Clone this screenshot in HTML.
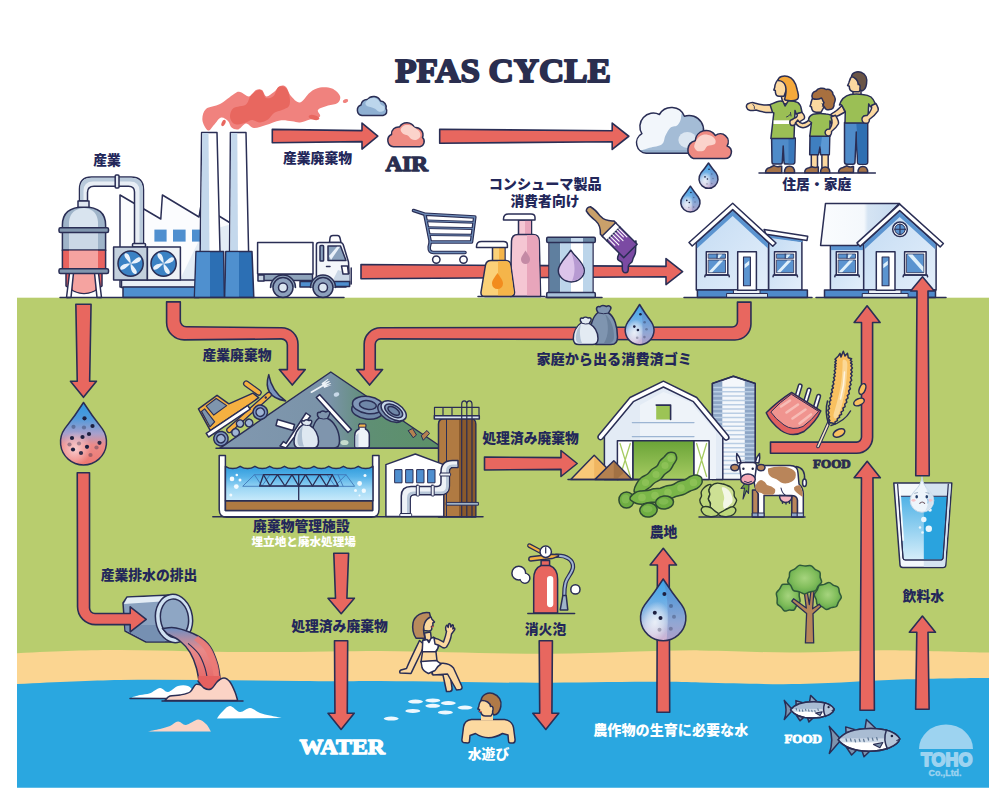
<!DOCTYPE html>
<html lang="ja"><head><meta charset="utf-8"><title>PFAS CYCLE</title>
<style>
html,body{margin:0;padding:0;background:#fff;}
body{width:1000px;height:800px;overflow:hidden;position:relative;font-family:"Liberation Sans","Noto Sans CJK JP",sans-serif;}
svg{position:absolute;left:0;top:0;display:block;}
.o{stroke:#2a2e55;stroke-width:1.5;stroke-linejoin:round;stroke-linecap:round;}
.ar{fill:#e8675f;stroke:#2a2e55;stroke-width:1.6;stroke-linejoin:round;}
.jp{font-family:"Liberation Sans","Noto Sans CJK JP",sans-serif;font-weight:900;font-size:13.8px;fill:#23275a;text-anchor:middle;}
.sl{font-family:"Liberation Serif","DejaVu Serif",serif;font-weight:700;fill:#2a2e4f;text-anchor:middle;}
.w{fill:#fff;}
</style></head><body>
<svg width="1000" height="800" viewBox="0 0 1000 800">
<!-- 00_defs_bg.svg -->
<defs>
<linearGradient id="gDropR" x1="0" y1="0" x2="0" y2="1"><stop offset="0" stop-color="#2f98e2"/><stop offset=".25" stop-color="#4f9adb"/><stop offset=".5" stop-color="#a9a0cc"/><stop offset=".68" stop-color="#ec8a88"/><stop offset="1" stop-color="#ee7870"/></linearGradient>
<linearGradient id="gDropM" x1="0" y1="0" x2="0" y2="1"><stop offset="0" stop-color="#3a8ad4"/><stop offset=".5" stop-color="#7aa0cf"/><stop offset="1" stop-color="#c9a9c4"/></linearGradient>
<linearGradient id="gWall" x1="0" y1="0" x2="1" y2="1"><stop offset="0" stop-color="#c3dbf3"/><stop offset="1" stop-color="#e3eefa"/></linearGradient>
<linearGradient id="gRoof2" x1="0" y1="0" x2="1" y2="0"><stop offset="0" stop-color="#fafcfe"/><stop offset=".55" stop-color="#f4f8fc"/><stop offset=".6" stop-color="#d5e4f3"/><stop offset="1" stop-color="#c5daf0"/></linearGradient>
<linearGradient id="gTankW" x1="0" y1="0" x2="0" y2="1"><stop offset="0" stop-color="#2f9bdc"/><stop offset=".3" stop-color="#55b2e8"/><stop offset=".65" stop-color="#9fd8f5"/><stop offset="1" stop-color="#c8eafb"/></linearGradient>
<linearGradient id="gBarnD" x1="0" y1="0" x2="0" y2="1"><stop offset="0" stop-color="#6aa437"/><stop offset="1" stop-color="#a6cb62"/></linearGradient>
<linearGradient id="gMount" x1="0" y1="0" x2="1" y2="0"><stop offset="0" stop-color="#8198b0"/><stop offset=".5" stop-color="#7a93a8"/><stop offset=".68" stop-color="#5f8f74"/><stop offset="1" stop-color="#5c9068"/></linearGradient>
<linearGradient id="gGlassL" x1="0" y1="0" x2="0" y2="1"><stop offset="0" stop-color="#4fb2e6"/><stop offset="1" stop-color="#d6eefa"/></linearGradient>
<linearGradient id="gFlow" x1="0" y1="0" x2="0" y2="1"><stop offset="0" stop-color="#6d8fc4"/><stop offset=".35" stop-color="#e88a8a"/><stop offset="1" stop-color="#e5605f"/></linearGradient>
<linearGradient id="gCloud" x1="0" y1="0" x2="0" y2="1"><stop offset="0" stop-color="#ffffff"/><stop offset="1" stop-color="#c9d9ea"/></linearGradient>
<linearGradient id="gDropM2" x1="0" y1="0" x2="0" y2="1"><stop offset="0" stop-color="#3aa2ea"/><stop offset=".35" stop-color="#69aee6"/><stop offset=".7" stop-color="#a9bfe2"/><stop offset="1" stop-color="#d3b3d3"/></linearGradient>
<radialGradient id="gHL"><stop offset="0" stop-color="#fff" stop-opacity=".75"/><stop offset=".6" stop-color="#fff" stop-opacity=".4"/><stop offset="1" stop-color="#fff" stop-opacity="0"/></radialGradient>
<radialGradient id="gHLp"><stop offset="0" stop-color="#fde0e2" stop-opacity=".8"/><stop offset=".6" stop-color="#fbd0d3" stop-opacity=".4"/><stop offset="1" stop-color="#fbd0d3" stop-opacity="0"/></radialGradient>
<radialGradient id="gTree" cx=".5" cy=".45" r=".6"><stop offset="0" stop-color="#a6d47e"/><stop offset=".55" stop-color="#82be5c"/><stop offset="1" stop-color="#5aa347"/></radialGradient>
</defs>
<!-- background -->
<rect x="17" y="297.7" width="972" height="380" fill="#b8cd6e"/>
<path d="M17,653.2 C60,651 90,650 120,650 C170,650.5 210,652 240,652 C300,652.5 340,651 380,651 C440,651.5 500,654 550,653.8 C610,653.5 660,650 700,650.4 C740,651 770,653 800,652.5 C840,652 870,650 900,650.4 C940,651 965,652 989,652.5 L989,695 L17,695 Z" fill="#fbd591"/>
<path d="M17,684 C60,682 90,680.5 120,680 C180,679.5 240,680.5 300,681 C340,681.5 360,681 380,681 C440,681.5 500,683 550,682.7 C610,682.3 670,681 700,682.5 C740,683.5 770,684.5 800,684 C840,683 870,680.5 900,679.5 C940,678.5 965,678 989,678 L989,787.7 L17,787.7 Z" fill="#2aa7e0"/>
<!-- 05_left.svg -->
<g id="left">
<clipPath id="cpdL"><path d="M83.5,402.5 Q92.1,416.1 102.2,428.6 A23,23 0 1 1 64.8,428.6 Q74.9,416.1 83.5,402.5 Z"/></clipPath>
<path d="M83.5,402.5 Q92.1,416.1 102.2,428.6 A23,23 0 1 1 64.8,428.6 Q74.9,416.1 83.5,402.5 Z" fill="url(#gDropR)"/>
<g clip-path="url(#cpdL)"><ellipse cx="75" cy="449" rx="16" ry="18" fill="url(#gHLp)" transform="rotate(25 75 449)"/></g>
<circle cx="84.5" cy="418.3" r="2.1" fill="#1d2040" opacity="1"/>
<circle cx="92.5" cy="426" r="2.1" fill="#1d2040" opacity="1"/>
<circle cx="73.5" cy="426.8" r="2.1" fill="#1d2040" opacity="0.35"/>
<circle cx="84" cy="427.5" r="2.1" fill="#1d2040" opacity="0.35"/>
<circle cx="89" cy="434" r="2.1" fill="#1d2040" opacity="1"/>
<circle cx="82.5" cy="437" r="2.1" fill="#1d2040" opacity="1"/>
<circle cx="72" cy="438" r="2.1" fill="#1d2040" opacity="1"/>
<circle cx="99.5" cy="442.8" r="2.1" fill="#1d2040" opacity="0.9"/>
<circle cx="69.5" cy="444.5" r="2.1" fill="#1d2040" opacity="0.4"/>
<circle cx="79" cy="443.5" r="2.1" fill="#1d2040" opacity="0.35"/>
<circle cx="87" cy="446.8" r="2.1" fill="#1d2040" opacity="1"/>
<circle cx="96.5" cy="447.5" r="2.1" fill="#1d2040" opacity="0.35"/>
<circle cx="73" cy="449.5" r="2.1" fill="#1d2040" opacity="1"/>
<circle cx="81" cy="453" r="2.1" fill="#1d2040" opacity="0.9"/>
<circle cx="90.5" cy="455" r="2.1" fill="#1d2040" opacity="0.35"/>
<path class="o" d="M83.5,402.5 Q92.1,416.1 102.2,428.6 A23,23 0 1 1 64.8,428.6 Q74.9,416.1 83.5,402.5 Z" fill="none" stroke-width="1.600"/>
<path class="o" d="M127,597 L170,595 L176,642 L146,642 L125,631 L123,603 Z" fill="#8aa2c0"/>
<path d="M127.300,597.700 L168,596 L168,601 L124,604 Z" fill="#e3ecf5"/>
<path d="M125.500,625 L160,625 L165,641.300 L146.200,641.300 L125.700,630.500 Z" fill="#7690b2"/>
<g transform="rotate(-8 174 618.500)"><ellipse class="o" cx="174" cy="618.500" rx="18.500" ry="24.300" fill="#cfe0f1"/><ellipse class="o" cx="174.500" cy="618.500" rx="14" ry="19.500" fill="#8ea6c4"/></g>
<path class="o" d="M162.4,628.6 C164.7,628.5 170.1,626.8 176,628 C181.9,629.2 192.3,632.9 198,636 C203.7,639.1 206.7,641.7 210,646.4 C213.3,651.1 215.9,658.2 217.6,664 C219.3,669.8 219.9,678.2 220.4,681 L200.4,689 C199.7,685.5 198.1,674.1 196.4,668 C194.7,661.9 192.7,656.9 190,652.4 C187.3,647.9 183.8,644.1 180,641 C176.2,637.9 169.2,634.8 167,633.6 Z" fill="url(#gFlow)"/>
<path d="M188.4,643.6 C190.2,645.4 196.2,650.3 199,654.4 C201.8,658.5 203.6,663.7 205,668 C206.4,672.3 207.2,678 207.6,680" fill="none" stroke="#2a2e55" stroke-width="1.100" stroke-linecap="round"/>
<path d="M194,640 C195.7,641.5 201.2,645 204,649 C206.8,653 209.3,659.2 211,664 C212.7,668.8 213.5,675.7 214,678 L219.9,681  C219.9,678.2 219.3,669.8 217.6,664 C215.9,658.2 213.3,651.1 210,646.4 C206.7,641.7 200,637.7 198,636 Z" fill="#ec7a76" opacity=".85"/>
<path d="M131,697.6 C132.5,697.2 136.8,695.7 140,695 C143.2,694.3 146.7,694.4 150,693.2 C153.3,692 157,688.2 160,688 C163,687.8 165,692.3 168,692 C171,691.7 174.7,687 178,686 C181.3,685 185.3,685 188,686 C190.7,687 192.7,690 194,692 C195.3,694 195.7,697 196,698 L191,698.6 Z" fill="#fff"/>
<path class="o" d="M130,698.400 L168,698.400" fill="none"/>
<path class="o" d="M165,700.4 C165.8,699.7 167.5,696.9 170,696 C172.5,695.1 176.7,695.7 180,695 C183.3,694.3 187.3,693.8 190,692 C192.7,690.2 193.7,685.3 196,684.4 C198.3,683.5 201.7,685.6 204,686.4 C206.3,687.2 208,689.7 210,689 C212,688.3 213.7,683.8 216,682 C218.3,680.2 221.7,678 224,678 C226.3,678 228.2,679.7 230,682 C231.8,684.3 233.7,688.9 235,692 C236.3,695.1 237.2,699 237.6,700.4 Z" fill="#fbd3c5"/>
<path class="o" d="M162,701 L243,701" fill="none"/>
<path d="M198,681 C199,682.2 201.8,686.7 204,688 C206.2,689.3 208.8,690 211,689 C213.2,688 215.4,683.7 217,682 C218.6,680.3 219.8,679.5 220.4,679 L220.4,676 L198.5,676 Z" fill="#e5605f"/>
<path class="o" d="M198,681 C199,682.2 201.8,686.7 204,688 C206.2,689.3 208.8,690 211,689 C213.2,688 215.4,683.7 217,682 C218.6,680.3 219.8,679.5 220.4,679" fill="none"/>
<path d="M217,718.4 C217.8,717.3 219.8,714.1 222,712 C224.2,709.9 227,706 230,706 C233,706 236.7,711.7 240,712 C243.3,712.3 246.7,707.8 250,708 C253.3,708.2 256.7,711.7 260,713 C263.3,714.3 266.4,714.8 270,715.6 C273.6,716.4 279.7,717.6 281.6,718 Z" fill="#fff"/>
<path d="M147,731.6 C149.2,731.2 156.2,729.9 160,729 C163.8,728.1 167,727.2 170,726 C173,724.8 175.3,721.8 178,721.6 C180.7,721.4 182.7,725.3 186,725 C189.3,724.7 194.7,719.8 198,719.6 C201.3,719.4 203.8,722 206,724 C208.2,726 210.2,730.3 211,731.6 Z" fill="#fbd3c5"/>
</g>
<!-- 10_arrows.svg -->
<polygon class="ar" points="272.3,129.4 362,130.6 362,123.1 377.8,136.1 362,149.1 362,141.6 272.3,142.8"/>
<polygon class="ar" points="439.7,129.25 612.2,130.75 612.2,123.05 628.8,136.25 612.2,149.45 612.2,141.75 439.7,143.25"/>
<polygon class="ar" points="361,264.5 666,266.4 666,258.6 682.6,271.6 666,284.6 666,276.8 361,278.7"/>
<polygon class="ar" points="75.85,304.2 77.25,381.2 70.45,381.2 83.45,397.3 96.45,381.2 89.65,381.2 91.05,304.2"/>
<path class="ar" d="M77.25,472.75 L89.5,472.75 L89.55,608.1 A5.45,5.45 0 0 0 95,613.55 L130.2,613.55 L130.2,606.8 L146.2,619.3 L130.2,631.8 L130.2,624.65 L95.5,624.65 A17.95,17.95 0 0 1 77.55,606.7 Z"/>
<path class="ar" d="M166.6,301.9 L180.3,301.9 L180.3,320.8 A6,6 0 0 0 186.3,326.8 L281.5,327.7 A16.5,16.5 0 0 1 298,344.2 L298,369.6 L305.3,369.6 L292.3,385.1 L279.3,369.6 L287.35,369.6 L287.35,344.9 A6,6 0 0 0 281.35,338.9 L184.1,339.9 A17.5,17.5 0 0 1 166.6,322.4 Z"/>
<path class="ar" d="M737.45,302.15 L750.95,302.15 L750.95,323.95 A16,16 0 0 1 734.95,339.95 L380.75,338.85 A5.5,5.5 0 0 0 375.25,344.35 L375.25,369.6 L382.6,369.6 L369.6,385.1 L356.6,369.6 L364.15,369.6 L364.15,344.25 A16.5,16.5 0 0 1 380.65,327.75 L732.25,327.05 A5.2,5.2 0 0 0 737.45,321.85 Z"/>
<polygon class="ar" points="484.5,457 561,457.65 561,450.5 577.2,463.5 561,476.5 561,469.35 484.5,470"/>
<polygon class="ar" points="333.8,553.3 335.5,598.2 328,598.2 341.2,613.7 354.4,598.2 346.9,598.2 348.6,553.3"/>
<polygon class="ar" points="334.5,640.7 334.95,713.2 328,713.2 341.1,729.5 354.2,713.2 347.25,713.2 347.7,640.7"/>
<polygon class="ar" points="539.2,640.7 539.7,713.2 532.8,713.2 545.8,729.5 558.8,713.2 551.9,713.2 552.4,640.7"/>
<polygon class="ar" points="656.9,712.3 657.4,565 650.1,565 663.3,548.3 676.5,565 669.2,565 669.7,712.3"/>
<path class="ar" d="M770.5,442.1 L856.5,442.1 A5,5 0 0 0 861.5,437.1 L861.5,322.5 L854.1,322.5 L867.1,305.8 L880.1,322.5 L872.6,322.5 L872.6,437.3 A16,16 0 0 1 856.6,453.3 L770.5,453.3 Z"/>
<polygon class="ar" points="860,710.3 861.45,477.8 854.1,477.8 867.2,461.3 880.3,477.8 872.95,477.8 874.4,710.3"/>
<polygon class="ar" points="915.65,709.3 916.8,632.3 909.3,632.3 922.4,616 935.5,632.3 928,632.3 929.15,709.3"/>
<!-- 20_factory.svg -->
<g class="o" id="factory">
<!-- building body (behind chimneys) -->
<path d="M120,195 L160.8,219 L162.4,195 L199,217 L201,205 L232,224 L232,287 L120,287 Z" fill="#fbfcfe"/>
<path d="M203,232 L232,224 L232,290 L175,290 Z" fill="#e3ecf5" stroke="none"/>
<g stroke="none" fill="#4f8fcf"><rect x="154.4" y="229.6" width="12.2" height="12"/><rect x="173" y="229.6" width="12.6" height="12"/><rect x="192" y="229.6" width="10" height="12"/></g>
<!-- base strips -->
<rect x="121.5" y="280" width="80" height="7.5" fill="#e9eff6"/>
<rect x="123" y="287" width="76" height="10.5" fill="#4f8fcf"/>
<!-- chimneys -->
<path d="M201.6,132.4 L217,132.4 L220,252 L200.2,252 Z" fill="#fff"/>
<path d="M202.3,133.1 L208.5,133.1 L209.5,251.3 L200.9,251.3 Z" fill="#c4d8ec" stroke="none"/>
<path d="M230.4,132.4 L246,132.4 L248.6,252 L229.6,252 Z" fill="#fff"/>
<path d="M231.1,133.1 L237.3,133.1 L238,251.3 L230.3,251.3 Z" fill="#c4d8ec" stroke="none"/>
<path d="M196,251.6 L223.6,251.6 L224.4,297.5 L194.4,297.5 Z" fill="#2c6fb4"/>
<path d="M196.7,252.3 L210,252.3 L210,296.8 L195.1,296.8 Z" fill="#4f90cf" stroke="none"/>
<path d="M225.8,251.6 L252,251.6 L253.8,297.5 L224.8,297.5 Z" fill="#2c6fb4"/>
<path d="M226.5,252.3 L239,252.3 L239,296.8 L225.5,296.8 Z" fill="#4f90cf" stroke="none"/>
<!-- pipe from tank to fan box -->
<path d="M79.5,201 L79.5,189 Q79.5,177 91.5,177 L131,177 Q143.5,177 143.5,189.5 L143.5,246 L134.5,246 L134.5,192 Q134.5,186.2 128.5,186.2 L94,186.2 Q87.5,186.2 87.5,192.5 L87.5,201 Z" fill="#e8eef5"/>
<path d="M80.2,200 L80.2,189 Q80.2,177.8 91.5,177.8 L131,177.8 Q142.8,177.8 142.8,189.5 L142.8,245.3 L139.5,245.3 L139.5,191 Q139.5,181.5 130,181.5 L93,181.5 Q83.5,181.5 83.5,191 L83.5,200 Z" fill="#b9cadb" stroke="none"/>
<rect x="115.2" y="175" width="3.8" height="13" rx="1" fill="#e8eef5"/>
<rect x="132.5" y="243.5" width="13" height="3.6" rx="1" fill="#e8eef5"/>
<!-- fan box -->
<rect x="113.6" y="247" width="33.8" height="33" fill="#c3d0dd"/>
<rect x="147.4" y="247" width="33" height="33" fill="#edf1f6"/>
<circle cx="130.6" cy="263.6" r="12.6" fill="#3b82c4"/>
<circle cx="163.6" cy="263.6" r="12.6" fill="#3b82c4"/>
<g stroke="none" fill="#e9f2fb">
<path d="M130.6,263.6 C126,259 123,255.5 125,253.5 C127.5,252 131,256 130.6,263.6 C135.2,259 138.7,256 140.7,258 C142.2,260.5 138.2,264 130.6,263.6 C135.2,268.2 138.2,271.7 136.2,273.7 C133.7,275.2 130.2,271.2 130.6,263.6 C126,268.2 122.5,271.2 120.5,269.2 C119,266.7 123,263.2 130.6,263.6 Z"/>
<path d="M163.6,263.6 C159,259 156,255.5 158,253.5 C160.5,252 164,256 163.6,263.6 C168.2,259 171.7,256 173.7,258 C175.2,260.5 171.2,264 163.6,263.6 C168.2,268.2 171.2,271.7 169.2,273.7 C166.700,275.2 163.2,271.2 163.6,263.6 C159,268.2 155.5,271.2 153.5,269.2 C152,266.7 156,263.2 163.6,263.6 Z"/>
</g>
<!-- tank -->
<path d="M70.5,292 L67.5,297.5 M73,273 L69,297.5 M96,273 L100,297.5" fill="none"/>
<path d="M66,270 L66,286 Q75,293.5 84,293.5 Q93,293.5 102,286 L102,270 Z" fill="#e8625f"/>
<path d="M73,271 L73,290 Q78,293 84,293 Q90,293 95,290 L95,271 Z" fill="#f5a3a0" stroke="none"/>
<path d="M69.5,273 L73.5,273 L71,297.5 L66.5,297.5 Z" fill="#fff"/>
<path d="M94.500,273 L98.500,273 L101.500,297.5 L97,297.5 Z" fill="#fff"/>
<path d="M62.400,230 L62.400,225 Q62.400,207 84,207 Q105.600,207 105.600,225 L105.600,230 Z" fill="#9fb4c9"/>
<path d="M69,229 L69,222 Q70,209 84,208 Q97,209 98,222 L98,229 Z" fill="#d9e4ef" stroke="none"/>
<rect x="62.400" y="232" width="43.200" height="18.500" fill="#9fb4c9"/>
<rect x="69" y="232.7" width="29" height="17.500" fill="#cbd8e6" stroke="none"/>
<rect x="62.400" y="250" width="43.200" height="19" fill="#e8625f"/>
<rect x="69" y="250.7" width="29" height="17.600" fill="#f5a3a0" stroke="none"/>
<rect x="59" y="227.800" width="49.500" height="4.600" rx="1.500" fill="#8096ae"/>
<rect x="59" y="268.800" width="49.500" height="4.600" rx="1.500" fill="#8096ae"/>
<rect x="78" y="201" width="11" height="6.300" fill="#dfe7f0"/>
<!-- ground line -->
<path d="M60,297.5 L255,297.5" fill="none"/>
</g>
<!-- 21_smoke_truck.svg -->
<g id="smoke" stroke="none">
<path d="M202.4,120 C202.1,116.4 203.1,111.7 206,109 C208.9,106.3 215.3,106.5 220,104 C224.7,101.5 230.7,96 234,94 C237.3,92 237.5,91.6 240,92 C242.5,92.4 246.3,96.7 249,96.4 C251.7,96.1 253.8,91.1 256,90 C258.2,88.9 260.3,88.9 262,90 C263.7,91.1 264.4,96.1 266.4,96.4 C268.4,96.7 271.7,93.7 274,92 C276.3,90.3 278,86.8 280,86 C282,85.2 284.2,85.3 286,87 C287.8,88.7 288.7,93.4 291,96 C293.3,98.6 296.8,103 300,102.4 C303.2,101.8 306.7,94.9 310,92.4 C313.3,89.9 316.3,88.2 320,87.6 C323.7,87 328.7,87.2 332,88.6 C335.3,90 339.1,93.6 340,96 C340.9,98.4 339.6,101.4 337.6,103 C335.6,104.6 331.3,104.4 328,105.6 C324.7,106.8 319.3,108.2 318,110 C316.7,111.8 321.3,114.8 320,116.4 C318.7,118 313.3,118.6 310,119.6 C306.7,120.6 303,122.1 300,122.4 C297,122.7 295.3,121.5 292,121.2 C288.7,120.9 284.3,119.8 280,120.4 C275.7,121 270.3,123.7 266,125 C261.7,126.3 257.3,128.2 254,128 C250.7,127.8 248.6,123.4 246,123.6 C243.4,123.8 240.8,128.7 238.4,129.4 C236,130.1 233.3,129 231.6,127.6 C229.9,126.2 229.8,122.7 228,121 C226.2,119.3 223.3,117 221,117.6 C218.7,118.2 216.6,122.3 214.4,124.4 C212.2,126.5 210,131.1 208,130.4 C206,129.7 202.7,123.6 202.4,120 Z" fill="#f0827e"/>
<path d="M230,116 C230.2,113.6 230.9,109.9 233.6,108 C236.3,106.1 243.2,106.4 246,104.4 C248.8,102.4 248.6,98.3 250.4,96 C252.2,93.7 255.1,91.3 257,90.4 C258.9,89.5 260.5,89.5 262,90.8 C263.5,92.1 264.1,97.1 266,98 C267.9,98.9 271.5,97.8 273.6,96 C275.7,94.2 276.3,88.3 278.4,87 C280.5,85.7 284.1,86.3 286,88 C287.9,89.7 289.1,94 289.6,97 C290.1,100 290.3,103.8 289,106 C287.7,108.2 284.5,108.8 282,110 C279.5,111.2 276.3,111.4 274,113 C271.7,114.6 270.3,118 268,119.6 C265.7,121.2 262.7,122.3 260,122.4 C257.3,122.5 254.3,120 252,120 C249.7,120 248.3,121.7 246,122.4 C243.7,123.1 240.3,124.4 238,124.4 C235.7,124.4 233.7,123.8 232.4,122.4 C231.1,121 229.8,118.4 230,116 Z" fill="#e8675f"/>
<ellipse cx="345.5" cy="101" rx="2.8" ry="1.8" fill="#f0827e" transform="rotate(-20 345.5 101)"/>
<ellipse cx="314" cy="117.5" rx="5.5" ry="2.4" fill="#e8675f" transform="rotate(14 314 117.5)"/>
<ellipse cx="223.5" cy="123" rx="1.8" ry="3.4" fill="#e8675f" transform="rotate(25 223.5 123)"/>
</g>
<g class="o" id="truck">
<rect x="258.500" y="274" width="54" height="6.500" fill="#8ea3ba"/>
<rect x="258" y="275" width="6" height="6" fill="#c8d4e2"/>
<rect x="300" y="281.500" width="46" height="5.500" fill="#4f8fcf"/>
<rect x="257.600" y="242.400" width="55.400" height="31.600" fill="#fff"/>
<path d="M329.500,242.400 L330,238 Q330.300,235.600 333,235.600 L337.500,235.600 Q339.500,235.600 340,238 L341,242.400 Z" fill="#fff"/>
<path d="M316.400,286 L316.400,245 Q316.400,242.400 319,242.400 L340.500,242.400 Q342.500,242.400 343.200,244.500 L348.500,262 L349.600,284 Q349.600,286 347.500,286 Z" fill="#f4f7fb"/>
<path d="M330,286 L349.600,286 L349.600,274 L338,270 Z" fill="#c9d6e5" stroke="none"/>
<path d="M328,246 L340.500,246 L346,260.500 L328,260.500 Z" fill="#8aa2bd"/>
<path d="M329,256 L337,246.700 L340,246.700 L331,260 Z" fill="#e9f1f9" stroke="none"/>
<rect x="320" y="245.500" width="3.600" height="15.500" rx=".8" fill="#8aa2bd"/>
<path d="M341.500,266 L347.500,266 L348.500,274 L343,274 Z" fill="#fff"/>
<path d="M351.200,268 L351.200,284" fill="none"/>
<path d="M326.500,266.500 L330,266.500" fill="none"/>
<rect x="334" y="281.500" width="15.600" height="5" fill="#4f8fcf"/>
<path d="M270.500,287.500 A12.500,12.500 0 0 1 295.500,287.500" fill="#8ea3ba"/>
<path d="M310.500,287.500 A12.500,12.500 0 0 1 335.500,287.500" fill="#8ea3ba"/>
<circle cx="283" cy="287.500" r="10" fill="#8da1bd"/><circle cx="283" cy="287.500" r="4.500" fill="#dbe5f0"/>
<circle cx="323" cy="287.500" r="10" fill="#8da1bd"/><circle cx="323" cy="287.500" r="4.500" fill="#dbe5f0"/>
<path d="M255,297.500 L344,297.500" fill="none"/>
</g>
<!-- 22_products.svg -->
<g id="cart" fill="none" stroke-linecap="round" stroke-linejoin="round">
<g stroke="#2a2e55" stroke-width="3.600">
<path d="M413.500,210.500 L424.800,214.200 L430.300,242 L471.500,242 L474.800,217 L425.300,214.200"/>
<path d="M430.300,242 L429.200,247 Q428.800,252.500 433.500,252.500 L465,252.500"/>
</g>
<g stroke="#2a2e55" stroke-width="2.800"><path d="M426.500,220.800 L474,222.300 M427.800,227.700 L473.200,228.600 M429,234.700 L472.300,235.200"/></g>
<g stroke="#6d8cb8" stroke-width="1.300">
<path d="M413.500,210.500 L424.800,214.200 L430.300,242 L471.500,242 L474.800,217 L425.300,214.200"/>
<path d="M430.300,242 L429.200,247 Q428.800,252.500 433.500,252.500 L465,252.500"/>
<path d="M426.500,220.800 L474,222.300 M427.800,227.700 L473.200,228.600 M429,234.700 L472.300,235.200" stroke-width=".900"/>
</g>
<circle cx="436.300" cy="259.600" r="3.700" fill="#fff" stroke="#2a2e55" stroke-width="1.500"/>
<circle cx="463.500" cy="259.600" r="3.700" fill="#fff" stroke="#2a2e55" stroke-width="1.500"/>
</g>
<g class="o" id="bottles">
<!-- pink bottle -->
<rect x="518.500" y="220" width="13" height="15" fill="#f5c6d3"/>
<rect x="525" y="220.600" width="6" height="14" fill="#e8a5bb" stroke="none"/>
<path d="M503.500,219 Q503.500,214 508.500,214 L531,214 Q535,214 535,217.500 L535,220 L503.500,220 Z" fill="#fff"/>
<path d="M510.400,296.500 L511.500,241 Q511.800,234.400 518,234.400 L533,234.400 Q539,234.400 539.300,241 L540.600,296.500 Z" fill="#f5c6d3"/>
<path d="M527,235.100 L533,235.100 Q538.500,235.100 538.600,241 L539.900,295.800 L527,295.800 Z" fill="#e8a5bb" stroke="none"/>
<path d="M525.500,250.500 C527.500,254 530,256.500 530,259.500 A4.500,4.500 0 0 1 521,259.500 C521,256.500 523.500,254 525.500,250.500 Z" fill="#c48aa5" stroke="none"/>
<!-- orange bottle -->
<rect x="492.500" y="247" width="12.500" height="14" fill="#fbd178"/>
<rect x="499" y="247.600" width="5.400" height="13" fill="#f5b54a" stroke="none"/>
<path d="M476.500,246.600 Q476.500,241.600 481.500,241.600 L503.500,241.600 Q507.400,241.600 507.400,245 L507.400,247.600 L476.500,247.600 Z" fill="#fff"/>
<path d="M481,292 L485.500,265 Q486.500,260.500 491,260.500 L506,260.500 Q510,260.500 510.800,265 L514.500,292 Q514.800,296.500 510,296.500 L485,296.500 Q480.500,296.500 481,292 Z" fill="#fbd178"/>
<path d="M498,261.200 L506,261.200 Q509.500,261.200 510.100,265 L513.800,292 Q514,295.800 510,295.800 L498,295.800 Z" fill="#f5b54a" stroke="none"/>
<path d="M497.500,273 C500,277 503,280 503,283.500 A5.500,5.500 0 0 1 492,283.500 C492,280 495,277 497.500,273 Z" fill="#f28c1e" stroke="none"/>
<path d="M478,296.500 L545,296.500" fill="none"/>
</g>
<g class="o" id="can">
<rect x="549" y="242" width="44" height="51" fill="#fff"/>
<rect x="549.700" y="242" width="10.500" height="51" fill="#5f7f9f" stroke="none"/>
<rect x="560.200" y="242" width="10.800" height="51" fill="#bcd5ea" stroke="none"/>
<rect x="583" y="242" width="9.300" height="51" fill="#bcd5ea" stroke="none"/>
<rect x="546.700" y="237.200" width="48.600" height="5.200" rx="1.200" fill="#6b88a6"/>
<rect x="546.700" y="292.600" width="48.600" height="5" rx="1.200" fill="#a9c2da"/>
<rect x="571" y="238" width="12" height="3.600" fill="#c8dcee" stroke="none"/>
<path d="M570.800,250.200 C574,256 584.300,263 584.300,270.500 A13,11.400 0 0 1 558.300,270.500 C558.300,263 567.500,256 570.800,250.200 Z" fill="#dcc4ea"/>
<path d="M570.800,251.500 C574,257 583.500,263.500 583.500,270.500 A12.200,10.600 0 0 1 572,281 C576,272 575,262 570.800,251.500 Z" fill="#b79ad2" stroke="none"/>
<path d="M546,297.500 L602,297.500" fill="none"/>
</g>
<g class="o" id="brush">
<path d="M620,249 C620,255 616.500,256 617.800,259.500 C619.500,262 622.300,260.500 622.300,264 L622.300,269 Q622.600,272.800 625.500,272.800 Q628.300,272.800 628.300,269 L628.300,266.500 C628.300,263 632,264 632.500,260.500 C633,256.500 635.300,256 635.500,252 L636,241 Z" fill="#7b4aa3"/>
<g transform="rotate(-45 611 231.500)">
<path d="M608,199.500 Q611,197 614,199.500 Q615.500,205 614.300,213 Q613.800,220 620.500,226 L620.500,229.500 L601.500,229.500 L601.500,226 Q608.200,220 607.700,213 Q606.500,205 608,199.500 Z" fill="#c9a06a"/>
<rect x="601.500" y="228.500" width="19" height="6.500" fill="#fff"/>
<rect x="601.500" y="235" width="19" height="24" fill="#7b4aa3"/>
<path d="M604,235 L604,244 M607,235 L607,246.500 M610,235 L610,244 M613,235 L613,246.500 M616,235 L616,244 M618.500,235 L618.500,246.500" stroke="#fff" stroke-width="1.100" fill="none"/>
</g>
</g>
<!-- 23_houses.svg -->
<defs>
<g id="win">
<rect x="0" y="0" width="21.500" height="23.300" fill="#fff" class="o"/>
<rect x="2.300" y="2.300" width="16.900" height="4.300" fill="#5b94d0" stroke="#2a2e55" stroke-width=".8"/>
<rect x="2.300" y="8.300" width="16.900" height="12.700" fill="#5b94d0" stroke="#2a2e55" stroke-width=".8"/>
<path d="M10.700,2.300 L10.700,6.600" stroke="#2a2e55" stroke-width=".9" fill="none"/>
<path d="M3,19.500 L13,8.800 L17,8.800 L6,20.600 L3,20.600 Z M12,2.800 L16,2.800 L13,6.200 L11.500,6.200 Z" fill="#dff0fb" stroke="none"/>
<path d="M-1,23.300 L22.500,23.300 M-1,23.300 L-1.500,25 M22.500,23.300 L23,25" class="o" fill="none"/>
</g>
<g id="door">
<rect x="0" y="0" width="18.700" height="38.500" fill="#fff" class="o"/>
<rect x="5.800" y="5.300" width="6.900" height="28.800" fill="#5b94d0" stroke="#2a2e55" stroke-width="1.100"/>
<path d="M7,12.500 L11.500,9 L11.500,13 L7,16.500 Z" fill="#dff0fb" stroke="none"/>
</g>
</defs>
<g id="house1" class="o">
<!-- extension -->
<path d="M768.500,236 L801.900,241 L801.900,290 L768.500,290 Z" fill="url(#gWall)"/>
<path d="M768.500,233 L802.500,238.500 L802.500,242.300 L768.500,237.800 Z" fill="#5b94d0" stroke="none"/>
<path d="M764.100,229.400 L807.700,236.300 L807,240.500 L766,234.300 Z" fill="#fff"/>
<!-- main -->
<path d="M696.300,243 L732.700,210 L768.500,243 L768.500,290 L696.300,290 Z" fill="url(#gWall)"/>
<path d="M696.900,243 L732.700,210.800 L767.900,243 L767.900,248.500 L732.700,216 L696.900,248.500 Z" fill="#5b94d0" stroke="none"/>
<path d="M732.700,203.300 L776,243 L772.800,246.300 L732.700,209.600 L692.200,246 L689,242.500 Z" fill="#fff"/>
<!-- base -->
<rect x="697.400" y="290" width="110" height="7.500" fill="#4f8acb"/>
<rect x="733.800" y="290" width="26.200" height="3.500" fill="#eef3f9" stroke-width="1"/>
<rect x="727" y="293.500" width="40.500" height="4" fill="#dfe8f2" stroke-width="1"/>
<use href="#win" x="706.300" y="251.700"/>
<use href="#door" x="737.700" y="251.700"/>
<use href="#win" x="774.500" y="251.700"/>
<path d="M684,297.500 L812,297.500" fill="none"/>
</g>
<g id="house2" class="o">
<!-- left wing wall -->
<rect x="830.400" y="245" width="33.300" height="45" fill="url(#gWall)"/>
<rect x="831" y="245.600" width="32" height="4.500" fill="#5b94d0" stroke="none"/>
<!-- big roof plane -->
<path d="M825.500,203.400 L899.500,203.400 L857,245.400 L820.600,245.400 Z" fill="url(#gRoof2)"/>
<!-- gable wall -->
<path d="M863.700,244 L899.700,211 L936.100,244 L936.100,290 L863.700,290 Z" fill="url(#gWall)"/>
<path d="M864.300,244 L899.700,211.800 L935.500,244 L935.500,249.500 L899.700,217 L864.300,249.500 Z" fill="#5b94d0" stroke="none"/>
<path d="M899.700,204.100 L943.400,243.500 L940.200,246.900 L899.700,210.500 L860.200,246.400 L857,242.900 Z" fill="#fff"/>
<rect x="824.500" y="290" width="111" height="7.500" fill="#4f8acb"/>
<rect x="869" y="290" width="32" height="3.500" fill="#eef3f9" stroke-width="1"/>
<rect x="862.600" y="293.500" width="45.500" height="4" fill="#dfe8f2" stroke-width="1"/>
<circle cx="900" cy="229.300" r="7.300" fill="#fff"/>
<circle cx="900" cy="229.300" r="5.200" fill="#5b94d0" stroke-width="1"/>
<path d="M900,224.100 L900,234.500 M894.800,229.300 L905.200,229.300" fill="none" stroke-width="1.100"/>
<use href="#win" x="836.300" y="251.700"/>
<use href="#door" x="876.300" y="251.700"/>
<g transform="translate(904.600 251.700)">
<rect x="0" y="0" width="21.500" height="23.300" fill="#fff"/>
<rect x="2.300" y="2.300" width="16.900" height="18.700" fill="#5b94d0" stroke-width=".8"/>
<path d="M3,2.800 L8,2.800 L18.700,15 L18.700,20.500 Z" fill="#dff0fb" stroke="none"/>
<path d="M-1,23.300 L22.500,23.300 M-1,23.300 L-1.500,25 M22.500,23.300 L23,25" fill="none"/>
</g>
<path d="M816,297.500 L946,297.500" fill="none"/>
</g>
<!-- 24_people.svg -->
<g id="people" class="o" stroke-width="1.300">
<!-- ===== woman ===== -->
<!-- extended arm -->
<path d="M772.500,104.500 C766,105.500 760,105 754.500,103 C752,101.800 749.500,103 747.500,104 C745.500,105.800 746.500,109.500 749.500,110.300 C752,111 754,110.300 756,110 C762,112 768,113 773,112.300 Z" fill="#fcd9a0"/>
<path d="M753,104.500 Q755,106 754.500,108.500" fill="none" stroke-width=".9"/>
<!-- pants -->
<path d="M771.600,138 L795.300,138 L794.800,162 Q794.800,164.100 792.500,164.100 L786,164.100 Q784,164.100 784,162 L783.200,146 L782.300,162 Q782.300,164.100 780,164.100 L774.200,164.100 Q772,164.100 772,162 Z" fill="#4f8bc9"/>
<path d="M788.500,138.700 L794.600,138.700 L794.100,162 Q794.100,163.400 792.500,163.400 L788.500,163.400 Z" fill="#3a78bb" stroke="none"/>
<!-- shoes -->
<path d="M765.500,172.800 Q765.500,168.500 770,167.500 L774,165.500 Q777,167.500 780,166.300 L781.700,166.300 L781.700,172.800 Z" fill="#a57349"/>
<path d="M784.500,172.800 Q784.500,166.300 789.500,166.300 Q794.600,166.300 794.600,172.800 Z" fill="#a57349"/>
<!-- neck -->
<path d="M781,95 L783,103.500 L789,104.500 L789,96 Z" fill="#fcd9a0"/>
<!-- shirt -->
<path d="M777,101.700 Q781,100.600 783,101.500 L785,106 L788.500,100.700 Q794,100.500 798,102.700 Q800.500,104.500 801.300,109 L802,112.500 L796.300,114 L795,110.500 L794,138.500 L770.900,138.500 L773.800,113 L772.500,112.300 L770,104.600 Z" fill="#9bbf55"/>
<rect x="773.600" y="120.300" width="15.500" height="3.700" fill="#fff" stroke="none"/>
<path d="M786.500,117 Q789,116.500 790,114.500 M790.500,112.500 L791,116" fill="none" stroke-width=".9"/>
<!-- right arm bent -->
<path d="M797,113.800 L801.800,112.200 C804,114.500 805.500,117 804,119 C801,121.500 798,122.500 795.500,123 C795.500,125.500 792.500,126 790.800,125 C789.500,123.500 789.300,120.500 791.500,119.800 C793,119.500 793.500,118.200 794.800,118 C796.500,117.300 798,116.200 797,113.800 Z" fill="#fcd9a0"/>
<!-- head -->
<path d="M779,79 C776,81 775,84 774.700,87.500 L773.800,90 L775.300,90.500 L775.500,93 Q776,96.300 779,96.300 L784,96.300 L787,88 L786,79 Z" fill="#fcd9a0"/>
<path d="M778,80.500 C778,76.500 784,75 788,76.500 C794,78.500 796,84 797,89 C797.500,92 799,94.500 798.300,97.500 C797.500,100.500 794,101 790,100.700 C787.500,100.500 785.500,100.800 784.500,99.500 C786,95 786.500,90 785.500,86 C784.500,82.500 781,80.500 778,80.500 Z" fill="#f5a93b"/>
<!-- ===== man ===== -->
<!-- left arm to child -->
<path d="M842,105.500 L845,112 C841,114.500 837,116.500 833,117.800 C831,118 830,116.500 830.500,115 C831,113.500 833,113 834.500,112 C837,110.500 839.500,108 842,105.500 Z" fill="#fcd9a0"/>
<!-- pants -->
<path d="M844.500,122.500 L867.700,122.500 L867.700,162 Q867.700,164.200 865.500,164.200 L859.500,164.200 Q857.500,164.200 857.500,162 L856.300,132 L855,162 Q855,164.200 853,164.200 L846.800,164.200 Q844.500,164.200 844.500,162 Z" fill="#4f8bc9"/>
<path d="M856.300,123.200 L867,123.200 L867,162 Q867,163.500 865.500,163.500 L859.500,163.500 Q858.200,163.500 858.200,162 L857,132 Z" fill="#2f6fb2" stroke="none"/>
<path d="M838.500,172.600 Q838.500,168.500 843,167.500 L847,165.800 Q850,167.800 853,166.500 L853.500,166.500 L853.500,172.600 Z" fill="#a57349"/>
<path d="M858,172.600 Q858,166.500 862.800,166.500 Q867.700,166.500 867.700,172.600 Z" fill="#a57349"/>
<!-- neck -->
<path d="M853,89 L853,96 L861,96 L861,89 Z" fill="#fcd9a0"/>
<!-- shirt -->
<path d="M850.500,94.500 Q856.500,93.300 862.500,94.500 Q868,95 871,97 Q873.500,99 875.500,104 L870.500,106.800 L868.700,104 L867.700,123 L845,123 L845.300,111.500 L842,105.500 Q840.500,104 839.500,105 Q842,96.500 850.500,94.500 Z" fill="#9bbf55"/>
<!-- right arm bent -->
<path d="M871.500,105.500 L875.800,103.500 C877.500,106 879,108.500 878,110.800 C875.500,114.500 872,117.500 869.300,119.500 C869.800,122 868,123.600 865.500,123.300 C862.500,123 861.200,120 862.300,117.500 C863.300,115.600 865.500,115.300 867,115.500 C869,113.500 872.500,110 871.500,105.500 Z" fill="#fcd9a0"/>
<!-- head -->
<path d="M853,75 C850,77.500 849.500,80.500 848.800,83 L847.600,85.600 L849.300,86.300 L849.500,88.500 Q850.500,91.800 854,91.800 L859,91.800 L862.500,86 L861,76 Z" fill="#fcd9a0"/>
<path d="M851.500,76.500 C852,72.500 857,71 861,72.300 C866,74 867.500,79 866.500,84 C866,87.500 864.500,90 862.500,90.700 C860.500,91 859.500,89.500 860,87.500 C860.500,85.500 859.500,84 858.200,84.500 C858.500,80.500 855,77.500 851.500,76.500 Z" fill="#6a5547"/>
<!-- ===== child ===== -->
<!-- left arm toward mother -->
<path d="M810.500,118 C808,121.500 805.500,123 802.500,123.500 C800,123 798.500,121.500 797.800,120 L795.500,123 C797.500,126 800,127.500 803,127.800 C806.500,127.500 809.500,125.500 812,122.500 Z" fill="#fcd9a0"/>
<!-- legs -->
<rect x="811.300" y="154" width="6.200" height="14" fill="#fcd9a0"/>
<rect x="821.900" y="154" width="6.300" height="14" fill="#fcd9a0"/>
<path d="M804.700,172.700 Q804.700,168.500 809,167.800 L812,166.800 Q815,168 818.300,167 L818.300,172.700 Z" fill="#a57349"/>
<path d="M820.500,172.700 Q820.500,167 825.200,167 Q829.800,167 829.800,172.700 Z" fill="#a57349"/>
<!-- shorts -->
<path d="M810,135.500 L829.800,135.500 L829.300,154.800 L820.800,154.800 L820,147 L818.500,154.800 L809.700,154.800 Z" fill="#3f7fc0"/>
<path d="M822,136.200 L829.100,136.200 L828.600,154.100 L821.500,154.100 L820.700,147 Z" fill="#5b98d4" stroke="none"/>
<!-- shirt -->
<path d="M813,114.300 Q819.500,112.800 826,114 Q831.500,114.500 834,117 L836,121.500 L831.500,123.300 L830,121 L830,136.200 L809.800,136.200 L811.500,122.500 L808.500,120.500 Q808.500,116 813,114.300 Z" fill="#9bbf55"/>
<!-- right arm bent -->
<path d="M831,117 L835.500,115.300 C837.500,118.500 839.300,121.500 838.300,124 C836.500,127.500 833.500,130 831.500,131.500 C832,134 830.500,136.300 828,136 C825.500,135.500 824.500,133 825.500,130.800 C826.500,129 828.500,129 829.700,129 C831.500,126.500 833.500,123 831,117 Z" fill="#fcd9a0"/>
<!-- head -->
<path d="M814,97 C811.500,99 811,102 810.800,104 L810,106.300 L811.500,107 Q811.500,111.800 816,112.300 L821,112.300 L824.500,106 L823,98 Z" fill="#fcd9a0"/>
<path d="M812.500,98.500 C811,94.500 813,91.500 816,91 C818,88 823,87.200 826,89.500 C829.500,88.500 833,91 833,94.500 C835.500,97 835.500,101 834,104 C834.500,107 832.500,109.800 829.500,109.500 C827,110.300 825,109 824.500,107 C823,106 823,104 824,102.500 C822.500,101 822.500,99 821.500,98 C818.500,99.500 815,99.500 812.500,98.500 Z" fill="#a8703f"/>
<path d="M822.200,103.500 Q823.500,105 822.500,106.500" fill="none" stroke-width=".9"/>
<!-- ground -->
<path d="M759,173 L875.400,173" fill="none" stroke-width="1.500"/>
</g>
<!-- 25_sky.svg -->
<g id="sky">
<clipPath id="cpBig"><path d="M646.2,153.3 A10.5,10.5 0 0 1 641.9,133.7 A13.5,13.5 0 0 1 659.4,114.5 A14,14 0 0 1 684.4,116.2 A14.5,14.5 0 0 1 699.5,140 A8,8 0 0 1 692,153.3 Z"/></clipPath>
<path d="M646.2,153.3 A10.5,10.5 0 0 1 641.9,133.7 A13.5,13.5 0 0 1 659.4,114.5 A14,14 0 0 1 684.4,116.2 A14.5,14.5 0 0 1 699.5,140 A8,8 0 0 1 692,153.3 Z" fill="#a4bcd6"/>
<g clip-path="url(#cpBig)"><path d="M630.5,153.3 C628.7,145.6 622.6,112.2 630.5,104 C638.4,95.8 669.3,102 677.7,104 C686.2,106 681.2,112.7 681.2,116.2 C681.2,119.7 679.5,123.1 677.7,125 C676,126.9 672.8,125.9 670.7,127.6 C668.7,129.4 667,132.7 665.5,135.5 C664,138.3 664.6,142.2 662,144.2 C659.4,146.3 653.2,146.7 649.7,147.7 C646.2,148.8 644.2,149.4 641,150.4 C637.8,151.3 632.2,161.1 630.5,153.3 Z" fill="#f2f6fb"/><ellipse cx="687.4" cy="139.9" rx="9" ry="8" fill="#dbe6f1"/><path d="M630,150 L705,150 L705,156 L630,156 Z" fill="#8faac8" opacity=".8"/></g>
<path class="o" d="M646.2,153.3 A10.5,10.5 0 0 1 641.9,133.7 A13.5,13.5 0 0 1 659.4,114.5 A14,14 0 0 1 684.4,116.2 A14.5,14.5 0 0 1 699.5,140 A8,8 0 0 1 692,153.3 Z" fill="none"/>
<path class="o" d="M693.5,158.6 A9.5,9.5 0 0 1 695.2,140.7 A11,11 0 0 1 715.4,135.5 A8,8 0 0 1 727.1,146 A6.5,6.5 0 0 1 725,158.6 Z" fill="#ee8a82"/>
<path d="M694.4,145.1 C694.9,143.4 696.3,139.9 697.9,138.1 C699.5,136.4 701.8,135 704,134.6 C706.2,134.2 709.1,135 711,135.8 C712.9,136.7 714.8,138.5 715.4,139.9 C715.9,141.3 715.8,143.2 714.5,144.2 C713.2,145.3 709.2,145 707.5,146 C705.7,147 705.6,149.5 704,150.4 C702.4,151.2 699.4,151.5 697.9,151.2 C696.3,151 695.5,149.6 694.9,148.6 C694.3,147.6 693.9,146.9 694.4,145.1 Z" fill="#fbd3cb"/>
<path class="o" d="M362,115.6 A5.5,5.5 0 0 1 361,105 A6,6 0 0 1 367.5,99.5 A7.5,7.5 0 0 1 380.5,101 A6,6 0 0 1 386,108.5 A4.5,4.5 0 0 1 383,115.6 Z" fill="#8fb0d2"/>
<path d="M365.5,102.8 C365.9,101.6 367.6,99.5 369.1,98.7 C370.6,97.9 372.9,97.8 374.4,98.1 C376,98.4 377.5,99.4 378.6,100.4 C379.7,101.5 380,103.5 381,104.6 C382,105.7 384.1,106 384.5,107 C385,108 384.8,109.7 384,110.5 C383.1,111.3 380.7,112 379.2,111.7 C377.7,111.4 376.5,109.6 375,108.8 C373.6,108 371.7,107.5 370.3,107 C368.9,106.5 367.5,106.5 366.7,105.8 C365.9,105.1 365.1,104 365.5,102.8 Z" fill="#bcd6ec"/>
<path class="o" d="M393.5,146.8 A6.5,6.5 0 0 1 391.5,134.5 A7,7 0 0 1 399.5,127 A8.5,8.5 0 0 1 414.5,127.5 A7.5,7.5 0 0 1 422.5,137.5 A5.5,5.5 0 0 1 420,146.8 Z" fill="#ee8a82"/>
<path d="M400.6,129.5 C400.8,128.2 402.6,126.1 404.1,125.4 C405.7,124.7 408.3,124.8 410.1,125.2 C411.9,125.5 413.3,126.6 414.8,127.8 C416.4,128.9 418.7,130.4 419.6,131.9 C420.5,133.4 420.8,135.3 420.2,136.7 C419.6,138 417.5,139.5 416,139.9 C414.5,140.3 412.7,139.8 411.3,139.1 C409.9,138.3 409.1,136.4 407.7,135.5 C406.3,134.6 404.1,134.7 403,133.7 C401.8,132.7 400.4,130.9 400.6,129.5 Z" fill="#fbd3cb"/>
<clipPath id="cpdR1"><path d="M708.5,163 Q712,168.2 716.1,173.1 A9.5,9.5 0 1 1 700.9,173.1 Q705,168.2 708.5,163 Z"/></clipPath>
<path d="M708.5,163 Q712,168.2 716.1,173.1 A9.5,9.5 0 1 1 700.9,173.1 Q705,168.2 708.5,163 Z" fill="url(#gDropM2)"/>
<g clip-path="url(#cpdR1)"><ellipse cx="705.1" cy="180.7" rx="5.9" ry="8.8" fill="url(#gHL)" transform="rotate(12 705.1 180.7)"/><path d="M708.4,163 C710.5,169.6 710.9,177.8 709.9,188.5 L719.7,188.5 L719.7,163 Z" fill="#5a70b4" opacity=".3"/></g>
<circle cx="709" cy="169.2" r="0.8" fill="#1d2040" opacity="1"/>
<circle cx="711.8" cy="174.1" r="0.8" fill="#1d2040" opacity="0.35"/>
<circle cx="705" cy="176.9" r="0.8" fill="#1d2040" opacity="1"/>
<circle cx="707.4" cy="179" r="0.8" fill="#1d2040" opacity="1"/>
<circle cx="713" cy="178.5" r="0.8" fill="#1d2040" opacity="0.3"/>
<circle cx="707" cy="183.9" r="0.8" fill="#1d2040" opacity="0.3"/>
<circle cx="711.7" cy="183.5" r="0.8" fill="#1d2040" opacity="0.3"/>
<path class="o" d="M708.5,163 Q712,168.2 716.1,173.1 A9.5,9.5 0 1 1 700.9,173.1 Q705,168.2 708.5,163 Z" fill="none" stroke-width="1.600"/>
<clipPath id="cpdR2"><path d="M690.4,186.2 Q694,191.7 698.1,196.7 A9.6,9.6 0 1 1 682.7,196.7 Q686.8,191.7 690.4,186.2 Z"/></clipPath>
<path d="M690.4,186.2 Q694,191.7 698.1,196.7 A9.6,9.6 0 1 1 682.7,196.7 Q686.8,191.7 690.4,186.2 Z" fill="url(#gDropM2)"/>
<g clip-path="url(#cpdR2)"><ellipse cx="686.9" cy="204.2" rx="5.9" ry="8.9" fill="url(#gHL)" transform="rotate(12 686.9 204.2)"/><path d="M690.3,186.2 C692.4,192.9 692.9,201.3 691.8,212.2 L701.7,212.2 L701.7,186.2 Z" fill="#5a70b4" opacity=".3"/></g>
<circle cx="690.9" cy="192.5" r="0.8" fill="#1d2040" opacity="1"/>
<circle cx="693.7" cy="197.5" r="0.8" fill="#1d2040" opacity="0.35"/>
<circle cx="686.8" cy="200.4" r="0.8" fill="#1d2040" opacity="1"/>
<circle cx="689.3" cy="202.5" r="0.8" fill="#1d2040" opacity="1"/>
<circle cx="695" cy="202" r="0.8" fill="#1d2040" opacity="0.3"/>
<circle cx="688.8" cy="207.5" r="0.8" fill="#1d2040" opacity="0.3"/>
<circle cx="693.6" cy="207.1" r="0.8" fill="#1d2040" opacity="0.3"/>
<path class="o" d="M690.4,186.2 Q694,191.7 698.1,196.7 A9.6,9.6 0 1 1 682.7,196.7 Q686.8,191.7 690.4,186.2 Z" fill="none" stroke-width="1.600"/>
</g>
<!-- 31_landfill.svg -->
<g id="landfill" class="o">
<!-- mountain -->
<path d="M219.600,448.300 L330.800,372 L440,446 L440,448.300 Z" fill="url(#gMount)"/>
<!-- fork -->
<g transform="rotate(-30 321 386.500)" stroke="none" fill="#eef3f8"><rect x="309" y="385.700" width="15" height="1.700" rx=".8"/><path d="M323,384 L331,383.200 L331,384.200 L326,385 L331,385.700 L331,386.800 L326,387 L331,388.200 L331,389.200 L326,388.500 L331,390.600 L323,389.500 Z"/></g>
<!-- planks -->
<path d="M316.300,397.500 L319.600,394.600 L351.500,429.500 L348,432.500 Z" fill="#fff"/>
<path d="M277.500,419.500 L294.500,424.500 L293,430.500 L276,425.500 Z" fill="#fff"/>
<path d="M306,413 L310.500,416 L286,448 L280,446 L283.500,441.500 L286,443.500 Z" fill="#fff"/>
<!-- dark bag -->
<path d="M319,418 C316,414.500 317.500,411.500 320,412.500 C322,409.500 325,411.500 326,412 C328,410.500 331,411.500 329.500,414.500 L327.500,418.500 C334,421 339.500,431 339.500,441 Q339.500,448 334,448 L316,448 Q311.500,448 311.500,441 C311.500,431 314,421.500 319,418 Z" fill="#7f95ad"/>
<path d="M319.500,418.300 Q323.500,419.800 327.300,418.600" fill="none" stroke-width="1"/>
<!-- white bag -->
<path d="M303,424.500 C300.500,422 301.500,420 304,421 C305.500,419 308,420 309,420.500 C311,419.500 312.500,421 311.500,423 L310,425.500 C315,428 318.500,435 318.500,441.500 Q318.500,448 313,448 L299,448 Q294,448 294,441.500 C294,435 297.500,428 303,424.500 Z" fill="#dfe8f1"/>
<path d="M303,425.500 C299,429.500 297,436 297.500,442 Q298,446.500 301,446.500 L304,446.500 C301.500,440 301.500,431 303,425.500 Z" fill="#aebfd2" stroke="none"/>
<path d="M303.300,424.800 Q306.500,426 309.800,425.300" fill="none" stroke-width="1"/>
<!-- blobs -->
<ellipse cx="336.500" cy="394.500" rx="2.800" ry="2" fill="#c8d8e8" stroke="none" transform="rotate(-20 336.500 394.500)"/>
<ellipse cx="344.500" cy="442.500" rx="4" ry="2.600" fill="#c5dccd" stroke="none"/>
<!-- tires -->
<g transform="rotate(8 367.600 407)"><ellipse cx="367.600" cy="410.500" rx="15.500" ry="8.500" fill="#6f87a8"/><ellipse cx="367.600" cy="405" rx="15.500" ry="8.500" fill="#8097b8"/><ellipse cx="367.600" cy="405" rx="8.500" ry="4.300" fill="#6f87a8"/></g>
<g transform="rotate(32 393 411)"><ellipse cx="391.500" cy="413.500" rx="14" ry="8" fill="#7a91b0"/><ellipse cx="393.500" cy="410.500" rx="14" ry="8" fill="#c5d6e8"/><ellipse cx="393.500" cy="410.500" rx="10" ry="5.300" fill="#8097b8"/><ellipse cx="393.500" cy="410.500" rx="6.500" ry="3.200" fill="#6f87a8"/></g>
<!-- bottle -->
<path d="M359,424.500 L365.500,424.500 L365.500,429 Q369.300,431 369.300,435 L369.300,446 Q369.300,448 367,448 L357,448 Q354.800,448 354.800,446 L354.800,435 Q354.800,431 359,429 Z" fill="#eef3f8"/>
<rect x="358.600" y="424" width="7.300" height="3.200" rx="1" fill="#f5b54a" stroke-width="1"/>
<path d="M355.500,436 L358.500,433 L358.500,447.300 L355.500,447.300 Z" fill="#c0cfdf" stroke="none"/>
<!-- brown bits -->
<path d="M408.500,430.500 L412.500,428.500 L416.500,435 L413.500,437.500 Z" fill="#b58150" stroke-width="1"/>
<path d="M421.500,435.500 L427,430.500 L429.500,433.500 L423.500,440 Z" fill="#b58150" stroke-width="1"/>
<!-- ===== bulldozer (rotated) ===== -->
<g transform="translate(240.600 425.450) rotate(-33.900)">
<path d="M51.700,-26.500 Q33.800,-12 51,4.800 Q44.800,-11 51.700,-26.500 Z" fill="#7a93bf"/>
<path d="M28,-31.600 L33.300,-17.300" fill="none" stroke-width="6.400"/>
<path d="M28,-31.600 L33.300,-17.300" fill="none" stroke="#f5b041" stroke-width="3.800"/>
<path d="M-28,-12.600 L-25.700,-37.300 L-2.800,-38.100 L2.300,-24.500 L28.300,-19.900 L30.500,-13 L17,-12.600 Z" fill="#f5b041"/>
<path d="M-17.800,-35.200 L-5.200,-36 L-0.500,-24.200 L-16.500,-23.600 Z" fill="#7f95ad" stroke-width="1.100"/>
<path d="M-24.600,-33.500 L-20.600,-33.800 L-19.500,-17.500 L-26.200,-16 Z" fill="#7f95ad" stroke-width="1.100"/>
<path d="M-12,-2.500 L40.400,-9.700" fill="none" stroke-width="6.200"/>
<path d="M-12,-2.500 L40.400,-9.700" fill="none" stroke="#f5b041" stroke-width="3.600"/>
<circle cx="36.500" cy="-9.200" r="1.200" fill="#2a2e55" stroke="none"/>
<rect x="-33" y="-12.600" width="50" height="4.400" fill="#fff"/>
<circle cx=".6" cy="-1.900" r="3.600" fill="#9fb4d4"/>
<circle cx="-23.700" cy="0" r="7.200" fill="#7a93bf"/><circle cx="-23.700" cy="0" r="4.200" fill="#9fb4d4"/>
<circle cx="-8.100" cy="3" r="3.800" fill="#9fb4d4"/>
<circle cx="8.400" cy="2.600" r="3.800" fill="#9fb4d4"/>
<circle cx="23.700" cy="0" r="7.200" fill="#7a93bf"/><circle cx="23.700" cy="0" r="4.200" fill="#9fb4d4"/>
</g>
<path d="M216,448.300 L440,448.300" fill="none"/>
</g>
<!-- 32_facility.svg -->
<g id="facility" class="o">
<!-- brown tower -->
<path d="M438.500,517 L438.500,424 Q438.500,418.400 445,418.400 L469,418.400 Q475.800,418.400 475.800,424 L475.800,517 Z" fill="#b07a42"/>
<path d="M459,419.100 L469,419.100 Q475.100,419.100 475.100,424 L475.100,516.300 L459,516.300 Z" fill="#8a5a2c" stroke="none"/>
<path d="M446.500,419 L446.500,517" fill="none" stroke-width="1"/>
<!-- platform + railing -->
<path d="M434.500,407.300 L479,407.300 M434.500,407.300 L434.500,416 M479,407.300 L479,416 M443,407.300 L443,416 M452,407.300 L452,416" fill="none" stroke-width="1.200"/>
<rect x="434.300" y="415.800" width="45" height="3.200" fill="#dbe6f1"/>
<!-- ladder -->
<path d="M461.700,517 L461.700,404 Q461.700,400.800 464.200,400.800 Q466.800,400.800 466.800,404 L466.800,517 M466.800,404 Q466.800,400.800 469.400,400.800 Q472,400.800 472,404 L472,517" fill="none" stroke-width="1.200"/>
<rect x="446.600" y="502.400" width="31.800" height="2.800" fill="#9fb4c9" stroke-width="1"/>
<!-- tank -->
<path d="M219.200,455.400 L225.400,455.400 L225.400,510.400 L372.600,510.400 L372.600,455.400 L379,455.400 L379,509.500 Q379,517.200 371.500,517.200 L226.700,517.200 Q219.200,517.200 219.200,509.500 Z" fill="#fff"/>
<rect x="225.400" y="500.800" width="147.200" height="9.600" fill="#b07a42"/>
<path d="M225.400,500.800 L225.400,466.300 q7.38,4.600 14.76,0 q7.38,4.600 14.76,0 q7.38,4.600 14.76,0 q7.38,4.600 14.76,0 q7.38,4.600 14.76,0 q7.38,4.600 14.76,0 q7.38,4.600 14.76,0 q7.38,4.600 14.76,0 q7.38,4.600 14.76,0 q7.38,4.600 14.76,0 L373,500.800 Z" fill="url(#gTankW)"/>
<g fill="none" stroke="#3f78b8" stroke-width=".9">
<path d="M243,486 L254.400,474.700 L346,474.700 L354.400,486 Z"/>
<path d="M254.400,474.700 L262,486 L270,474.700 M327,474.700 L335,486 L346,474.700 M343,486 L338,474.700"/>
</g>
<g fill="none" stroke-width="1.300">
<path d="M259.600,486 L263.500,474.700 L332.300,474.700 L338.300,486 Z"/>
<path d="M263.500,474.700 L270,486 L277.500,474.700 L285,486 L292,474.700 L298.700,486 L305.500,474.700 L312.500,486 L319.500,474.700 L326.500,486 L332.300,474.700"/>
<path d="M298.700,474.700 L298.700,500.400"/>
</g>
<g fill="#f2fafe" stroke="none"><circle cx="232" cy="478.900" r="2.300"/><circle cx="236.800" cy="475" r="1.300"/><circle cx="240" cy="480" r="1.500"/><circle cx="236.300" cy="486.600" r="2.400"/><circle cx="230.800" cy="495" r="1.500"/><circle cx="365" cy="475.500" r="1.500"/><circle cx="359.600" cy="483.500" r="2.400"/><circle cx="355.500" cy="490.600" r="1.500"/><circle cx="363.800" cy="490.800" r="2.200"/><circle cx="359.500" cy="495.500" r="1"/></g>
<!-- building -->
<path d="M385.900,516.500 L385.900,464.600 L415.300,454 L443.800,464.600 L443.800,516.500 Z" fill="#fff"/>
<g fill="#4f8fcf" stroke-width="1"><rect x="395" y="469.600" width="7" height="13.200"/><rect x="406" y="469.600" width="7" height="13.200"/><rect x="417" y="469.600" width="7" height="13.200"/><rect x="428" y="469.600" width="7" height="13.200"/></g>
<!-- pipe -->
<path d="M401.300,516.500 L401.300,496 Q401.300,486.400 411,486.400 L437,486.400 Q441,486.400 441,482.500 L441,472 Q441,460.400 452.500,460.400 L458,460.400 L458,467.400 L453,467.400 Q449.400,467.400 449.400,471.500 L449.400,486 Q449.400,494.800 440.500,494.800 L414.500,494.800 Q410.200,494.800 410.200,499 L410.200,516.500 Z" fill="#eef2f7"/>
<path d="M407,516 L407,498 Q407,491.500 413.500,491.500 L441,491.500 Q446,491.500 446,486.500 L446,471 Q446,464.500 452.500,464.500 L457.300,464.500 L457.300,466.700 L453,466.700 Q448.700,466.700 448.700,471.500 L448.700,486 Q448.700,494.100 440.500,494.100 L414.500,494.100 Q409.500,494.100 409.500,499 L409.500,516 Z" fill="#b9c8d9" stroke="none"/>
<rect x="416.300" y="485.200" width="3" height="10.800" rx=".8" fill="#eef2f7" stroke-width="1"/>
<rect x="431.200" y="485.200" width="3" height="10.800" rx=".8" fill="#eef2f7" stroke-width="1"/>
<rect x="439.800" y="473" width="10.800" height="3" rx=".8" fill="#eef2f7" stroke-width="1"/>
<rect x="399.800" y="513.500" width="11.800" height="3" rx=".8" fill="#eef2f7" stroke-width="1"/>
<path d="M212.800,516.800 L483,516.800" fill="none"/>
</g>
<!-- 33_farm.svg -->
<g id="farm" class="o">
<!-- silo -->
<path d="M712.400,479.400 L712.400,383.500 L733.400,376.300 L755.200,383.500 L755.200,479.400 Z" fill="#f4f7fb"/>
<path d="M713.100,479 L713.100,384 L722.300,380.800 L722.300,479 Z" fill="#8ea6c6" stroke="none"/>
<path d="M744.800,380.800 L754.500,384 L754.500,479 L744.800,479 Z" fill="#8ea6c6" stroke="none"/>
<path d="M713,387.500 H754.600 M713,391.800 H754.600 M713,396.100 H754.600 M713,400.400 H754.600 M713,404.700 H754.600 M713,409 H754.600 M713,413.300 H754.600 M713,417.600 H754.600 M713,421.900 H754.600 M713,426.200 H754.600 M713,430.500 H754.600 M713,434.800 H754.600 M713,439.100 H754.600 M713,443.400 H754.600 M713,447.700 H754.600 M713,452 H754.600 M713,456.300 H754.600 M713,460.600 H754.600 M713,464.900 H754.600 M713,469.200 H754.600 M713,473.500 H754.600" fill="none" stroke="#b9cde4" stroke-width="1.500" stroke-linecap="butt"/>
<path d="M712.400,479.400 L712.400,383.500 L733.400,376.300 L755.200,383.500 L755.200,479.400" fill="none"/>
<!-- barn wall -->
<path d="M604.400,479.400 L604.400,432 L631,400 L663.400,386 L696,400 L722.800,432 L722.800,479.400 Z" fill="#e3ebf5"/>
<path d="M640,479 L640,405 L663.400,392 L690,402 L716,432 L716,479 Z" fill="#eef3f9" stroke="none"/>
<!-- roof band -->
<path d="M663.400,381.200 L696.700,397.500 L728.300,435.800 Q729.800,438 727.800,439.500 Q725.800,441 724.200,439 L693.400,401.700 L663.400,387 L633.300,401.700 L602.500,438.800 Q600.800,440.500 598.900,439 Q597.200,437.300 598.500,435.500 L630,397.500 Z" fill="#fff"/>
<!-- hayloft -->
<rect x="656.200" y="405.100" width="14.400" height="14.400" fill="#9cc455" stroke="none"/>
<path d="M656.200,405.100 L670.600,405.100 L670.600,419.500" fill="none" stroke-width="1.600"/>
<path d="M632.300,422.600 L694,422.600 M632.300,436.600 L694,436.600" fill="none" stroke="#9db5d3" stroke-width="1.200"/>
<!-- door -->
<rect x="632.800" y="440.700" width="61.200" height="38.700" fill="url(#gBarnD)"/>
<rect x="617.400" y="440.700" width="15.400" height="38.700" fill="#fff"/>
<rect x="694" y="440.700" width="15.100" height="38.700" fill="#fff"/>
<path d="M620,443.500 L630.300,476.500 M630.300,443.500 L620,476.500 M696.600,443.500 L706.600,476.500 M706.600,443.500 L696.600,476.500" fill="none" stroke="#a6cb62" stroke-width="1.300"/>
<!-- heaps -->
<path d="M570.700,479.400 L594.200,455.200 L618,479.400 Z" fill="#f8c878"/>
<path d="M594.200,456.200 L608,470.500 L600,479 L594.200,479 Z" fill="#eaa84f" stroke="none" opacity=".55"/>
<path d="M595,479.400 L613.800,460.800 L632,479.400 Z" fill="#b58150"/>
<path d="M613.800,461.800 L624,472.500 L617,479 L613.800,479 Z" fill="#96673c" stroke="none" opacity=".6"/>
<path d="M568,479.400 L640,479.400" fill="none"/>
</g>
<!-- 34_veg.svg -->
<g id="veg">
<ellipse cx="626.500" cy="500" rx="7.600" ry="8" fill="#6fae42" stroke="#2e4b33" stroke-width="1.500" stroke-linejoin="round"/>
<path d="M635.9,492.7 C637.5,492.9 641.1,492.3 643.4,491.4 C645.7,490.6 647.7,488.9 649.6,487.5 C651.4,486 652.6,484.3 654.4,483 C656.2,481.6 658.5,481 660.3,479.5 C662,478 663.3,475.6 665,474 C666.6,472.4 668.7,471.5 670.2,469.9 C671.7,468.3 672.6,466 673.7,464.2 C674.8,462.4 676.3,460.8 676.6,459.2 C676.9,457.6 676.2,455.5 675.7,454.4 C675.1,453.3 674.5,452.8 673.3,452.6 C672.1,452.3 669.9,452.1 668.4,452.8 C666.9,453.5 665.7,455.4 664.3,456.8 C662.9,458.2 661,459.6 659.8,461.1 C658.6,462.7 658.4,464.6 657,466 C655.7,467.4 653.3,468.1 651.7,469.5 C650.2,470.8 649.3,472.7 647.6,474 C645.9,475.4 643.3,476 641.4,477.5 C639.6,479.1 637.8,481.4 636.6,483.6 C635.4,485.7 634.2,488.8 634.1,490.3 C633.9,491.8 634.4,492.5 635.9,492.7 Z" fill="#7ab648" stroke="#2e4b33" stroke-width="1.500" stroke-linejoin="round"/>
<circle cx="645.5" cy="482.5" r="3.6" fill="#9acb62" opacity=".55"/>
<circle cx="656" cy="474.5" r="3.6" fill="#9acb62" opacity=".55"/>
<circle cx="665" cy="465.5" r="3.6" fill="#9acb62" opacity=".55"/>
<circle cx="671" cy="458.5" r="3.6" fill="#9acb62" opacity=".55"/>
<path d="M630.6,500 C631.7,501.1 634.5,502.8 636.5,503.5 C638.5,504.2 640.6,504.2 642.8,504.1 C644.9,503.9 647.2,502.7 649.4,502.4 C651.7,502.1 654,502.6 656.3,502.2 C658.5,501.7 660.6,500.4 662.8,499.8 C665.1,499.3 667.5,499.7 669.8,499.1 C672,498.5 674.2,496.9 676.5,496.2 C678.8,495.4 681.3,495.4 683.5,494.5 C685.8,493.7 687.8,492.2 690,491.2 C692.2,490.2 694.8,489.7 696.8,488.5 C698.7,487.3 700.6,485.6 701.5,484 C702.4,482.4 702.2,479.9 701.9,478.7 C701.7,477.4 701.1,476.9 700.1,476.3 C699,475.7 697.1,475 695.5,475 C693.9,475 692,475.7 690.2,476.5 C688.5,477.3 687,479 685,479.8 C683,480.6 680.6,480.6 678.5,481.5 C676.4,482.3 674.6,484.1 672.5,484.8 C670.5,485.6 668.3,485.4 666.2,485.9 C664.2,486.5 662.2,487.7 660.2,488.2 C658.1,488.6 655.8,488.4 653.7,488.8 C651.6,489.2 649.7,490.2 647.6,490.6 C645.5,490.9 643.2,490.6 641.2,490.9 C639.2,491.3 637.3,491.5 635.5,492.5 C633.7,493.5 631.2,495.8 630.4,497 C629.5,498.3 629.6,498.9 630.6,500 Z" fill="#7ab648" stroke="#2e4b33" stroke-width="1.500" stroke-linejoin="round"/>
<circle cx="642" cy="497.5" r="3.8" fill="#9acb62" opacity=".55"/>
<circle cx="655" cy="495.5" r="3.8" fill="#9acb62" opacity=".55"/>
<circle cx="668" cy="492.5" r="3.8" fill="#9acb62" opacity=".55"/>
<circle cx="681" cy="488" r="3.8" fill="#9acb62" opacity=".55"/>
<circle cx="693.5" cy="482.5" r="3.8" fill="#9acb62" opacity=".55"/>
<ellipse cx="664.500" cy="502.500" rx="9" ry="6.500" fill="#6fae42" transform="rotate(-6 664.500 502.500)" stroke="#2e4b33" stroke-width="1.500" stroke-linejoin="round"/>
<ellipse cx="648.500" cy="510" rx="8.700" ry="7" fill="#6fae42" transform="rotate(-8 648.500 510)" stroke="#2e4b33" stroke-width="1.500" stroke-linejoin="round"/>
<ellipse cx="663.500" cy="501.500" rx="5" ry="3.300" fill="#8cc25c" opacity=".6"/><ellipse cx="647.500" cy="509" rx="5" ry="3.600" fill="#8cc25c" opacity=".6"/><ellipse cx="625.500" cy="499" rx="4" ry="4.500" fill="#8cc25c" opacity=".6"/>
<path d="M711,484.6 C710.6,483.9 708.2,484.9 707,485.5 C705.7,486.1 704.5,487.3 703.5,488.4 C702.5,489.5 701.5,490.8 701.2,492.1 C700.9,493.4 701.7,494.8 701.5,496.1 C701.2,497.5 699.8,498.7 699.8,500.2 C699.8,501.6 700.6,503.4 701.5,504.8 C702.4,506.1 703.6,507.6 705.2,508.2 C706.8,508.8 710.1,509 711,508.2 C711.8,507.4 710.8,505.1 710.4,503.6 C710,502.1 708.5,500.5 708.4,499 C708.3,497.5 709.7,495.9 709.8,494.4 C709.9,492.9 708.8,491.4 709,489.8 C709.2,488.2 711.3,485.3 711,484.6 Z" fill="#bdd77a" stroke="#2b3a2e" stroke-width="1.400" stroke-linejoin="round"/>
<path d="M716.7,483.2 C718.4,482.9 720.3,483.4 721.9,483.8 C723.5,484.1 725,484.6 726.5,485.2 C728,485.8 729.9,486.4 731.1,487.5 C732.3,488.6 733.5,490.1 734,491.5 C734.5,493 733.8,494.7 734.3,496.1 C734.7,497.6 736.5,498.7 736.6,500.2 C736.6,501.6 735.3,503.6 734.6,504.8 C733.8,505.9 733.6,506.2 732.3,507.1 C730.9,507.9 728.8,508.8 726.5,509.9 C724.2,511.1 720.6,513.9 718.5,514 C716.3,514 715.2,511.7 713.9,510.5 C712.5,509.4 711,508.3 710.4,507.1 C709.8,505.8 710.7,504.4 710.4,503 C710.1,501.7 708.5,500.4 708.4,499 C708.3,497.6 709.7,495.9 709.8,494.4 C709.9,492.9 708.6,491.3 709,489.8 C709.3,488.3 710.8,486.3 712.1,485.2 C713.4,484.1 715.1,483.4 716.7,483.2 Z" fill="#cde094" stroke="#2b3a2e" stroke-width="1.400" stroke-linejoin="round"/>
<path d="M721.9,487.5 C722.5,486.8 725.2,487.6 726.5,488.4 C727.8,489.1 729,490.6 730,492.1 C730.9,493.6 731.9,495.6 732.3,497.3 C732.6,498.9 732.8,500.4 732.3,501.9 C731.7,503.3 730.1,504.8 728.8,505.9 C727.5,507.1 725.2,509.2 724.2,508.8 C723.2,508.4 723.1,505.4 723.1,503.6 C723.1,501.8 724.2,499.7 724.2,497.9 C724.2,496 723.4,494.4 723.1,492.7 C722.7,491 721.3,488.2 721.9,487.5 Z" fill="#f7faf0" opacity=".9"/>
<path d="M701.8,508.2 C702.4,507.4 703.7,506.5 705.2,506.5 C706.8,506.4 709.3,507.1 711,507.9 C712.6,508.7 713.8,510.1 715,511.1 C716.2,512.1 718.5,513.1 718.5,514 C718.5,514.8 716.5,515.8 715,516.3 C713.5,516.7 711.1,516.8 709.3,516.5 C707.4,516.3 705.4,515.4 704.1,514.5 C702.8,513.6 701.9,512.1 701.5,511.1 C701.1,510 701.2,509 701.8,508.2 Z" fill="#bdd77a" stroke="#2b3a2e" stroke-width="1.400" stroke-linejoin="round"/>
<path d="M718.5,514 C718.6,513.1 721.5,512 723.1,511.1 C724.6,510.2 726.1,509.2 727.7,508.5 C729.2,507.8 731,506.8 732.3,506.8 C733.5,506.7 734.6,507.5 735.1,508.2 C735.7,508.9 736,510 735.7,511.1 C735.4,512.1 734.7,513.6 733.4,514.5 C732.1,515.4 729.6,516.3 727.7,516.5 C725.7,516.8 723.4,516.7 721.9,516.3 C720.4,515.8 718.3,514.8 718.5,514 Z" fill="#bdd77a" stroke="#2b3a2e" stroke-width="1.400" stroke-linejoin="round"/>
</g>
<!-- 35_cow.svg -->
<g id="cow" class="o" stroke-width="1.300">
<!-- far legs (brown) -->
<rect x="752.500" y="490" width="5.800" height="27" fill="#b9855a"/>
<rect x="791.800" y="492" width="5.800" height="25" fill="#b9855a"/>
<!-- body -->
<path d="M756,465.500 L790,465.500 Q798,465.500 798,473 L799,484 Q803.300,488 803.300,494 L803.300,517 L797.500,517 L797.500,500 Q797,495.500 791,495.500 L764,495.500 L764,517 L758.300,517 L758.300,494 Q754,488 754,478 Z" fill="#fff"/>
<!-- tail -->
<path d="M796,466.500 C803,467.500 805,473 804.500,479.500" fill="none"/>
<ellipse cx="804.500" cy="482.800" rx="1.900" ry="3.800" fill="#fff"/>
<!-- patches -->
<path d="M768,468.500 Q776,465.800 785,466.800 Q793,468.500 795.500,472.500 Q797,478.500 792,481.500 Q786,485 781,482.500 Q776.500,478.500 772,477.500 Q767,474.500 768,468.500 Z" fill="#b9855a" stroke="none"/>
<path d="M755,487 Q757,481 761,480 Q765,481 767,485 Q772,486 775,489 Q776,493.500 773,494.800 L764,494.800 Q761,492 758.500,492.500 Q755.500,491 755,487 Z" fill="#b9855a" stroke="none"/>
<path d="M794,487.500 Q797,484.500 800,485.500 Q801.500,487.500 802.600,492 L802.600,497 Q798,494 796,492 Q793.500,490 794,487.500 Z" fill="#b9855a" stroke="none"/>
<path d="M781,488 Q782,493 785,495" fill="none" stroke-width="1.100"/>
<!-- udder -->
<path d="M779.500,495.500 Q779.500,501.500 785,502.500 Q791.500,502.500 792,496 Z" fill="#f6b6c0"/>
<path d="M782.500,501.500 L782.500,503.200 M786,502.500 L786,504 M789.500,501.500 L789.500,503.200" fill="none" stroke-width="1.500"/>
<!-- hooves -->
<rect x="752.500" y="513" width="5.800" height="4" fill="#8ea6c6" stroke-width="1"/>
<rect x="758.300" y="513" width="5.700" height="4" fill="#b9cde4" stroke-width="1"/>
<rect x="791.800" y="513" width="5.800" height="4" fill="#8ea6c6" stroke-width="1"/>
<rect x="797.500" y="513" width="5.800" height="4" fill="#b9cde4" stroke-width="1"/>
<!-- grass -->
<path d="M745.500,482.500 L741,488.500 L744.500,488 L743,499 L746.500,490.500 L748.500,493.500 L749,484 Z" fill="#6fa03f" stroke-width="1.100"/>
<!-- horns, ears -->
<path d="M737.500,463 Q736,457 736.800,453.500 Q740,457 741,462.500 Z" fill="#fff"/>
<path d="M758.800,463 Q760.300,457 759.500,453.500 Q756.300,457 755.300,462.500 Z" fill="#fff"/>
<ellipse cx="734.800" cy="467.600" rx="4" ry="3.100" fill="#b9855a"/>
<ellipse cx="761" cy="467.600" rx="4" ry="3.100" fill="#b9855a"/>
<!-- head -->
<path d="M739.500,466 Q739.500,462.500 743,462.500 L753,462.500 Q756.500,462.500 756.500,466 L755,477 Q754,483.500 748,483.500 Q742,483.500 741,477 Z" fill="#fff"/>
<ellipse cx="748" cy="479.200" rx="7.300" ry="5.200" fill="#f6a9b6"/>
<path d="M744.500,481.500 Q748,484 751.500,481.500" fill="none" stroke-width="1"/>
<circle cx="743.400" cy="468.800" r="1.200" fill="#1d2340" stroke="none"/>
<circle cx="752.700" cy="468.800" r="1.200" fill="#1d2340" stroke="none"/>
<path d="M699,517 L805,517" fill="none"/>
</g>
<!-- 36_food.svg -->
<g id="food">
<rect class="o" x="797.4" y="384" width="3.600" height="14" rx="1.800" fill="#fff" transform="rotate(17 799.2 389)"/>
<rect class="o" x="806.3" y="388.1" width="3.600" height="14" rx="1.800" fill="#fff" transform="rotate(17 808.1 393.1)"/>
<rect class="o" x="815.9" y="394.3" width="3.600" height="14" rx="1.800" fill="#fff" transform="rotate(17 817.7 399.3)"/>
<path class="o" d="M791.600,392.400 L820.800,411 Q816,422 804,431.500 Q792,438 781,430.500 Q770,422 766.200,412.800 Q778,401 791.600,392.400 Z" fill="#e0605f"/>
<path d="M791.300,394.200 L818.600,411.400 Q812,420 803,426.500 Q792.500,431 784,425 Q775,418.500 770.800,412 Q780,402 791.300,394.200 Z" fill="#f0948f" stroke="#2a2e55" stroke-width="1"/>
<g stroke="#f7bcb6" stroke-width="2.600" stroke-linecap="round" fill="none"><path d="M781,406.500 L790,400.500"/><path d="M786.500,412.500 L798,404.500"/><path d="M792.500,418.500 L805.500,409.500"/><path d="M799.500,423.500 L811,414.500"/></g>
<path d="M829.500,421 L818,446.500" fill="none" stroke="#2a2e55" stroke-width="3.600" stroke-linecap="round"/>
<path d="M829.500,421 L818,446.500" fill="none" stroke="#f5e6c8" stroke-width="1.600" stroke-linecap="round"/>
<path class="o" d="M827.500,401 C825.500,408 826,416 828.500,424 M850.500,411 C846,419 838,423.500 831,425.500" fill="none"/>
<path class="o" d="M828.7,422.2 L829.9,420.6 L828.3,418.3 L829.5,416.7 L827.9,414.5 L829.1,412.9 L827.8,410.3 L829.5,408.5 L828.5,406 L830.2,404.3 L829.2,401.8 L830.9,400.2 L829.9,398 L831.7,396.2 L830.7,393.7 L832.5,391.9 L831.6,389.4 L833.4,388 L832.2,386 L833.9,384.1 L832.9,381.8 L834.6,379.9 L833.5,377.6 L835.1,376.2 L833.9,374.4 L835.4,372.7 L834.2,370.7 L835.8,369 L834.6,367.2 L836,366.2 L834.7,364.9 L836.2,363.4 L834.9,362 L836.3,360.6 L835,359.2 L838.3,356 L840,353.3 L841,357 L843.3,351.3 L845,356 L847.5,353.3 L848.3,357.8 L851.6,358.8 L850.3,360.2 L851.9,361.6 L850.6,363.1 L852.2,364.4 L850.9,365.9 L852.4,368 L850.9,370 L852.2,371.9 L850.7,373.7 L852.1,375.6 L850.6,377.6 L851.7,380.3 L850,382.2 L851.1,384.5 L849.3,386.4 L850.4,388.7 L848.6,391 L849.3,393.8 L847.3,395.6 L848.1,398 L846.1,399.8 L846.8,402.2 L844.7,404.2 L845.1,406.6 L842.9,408.2 L843.4,410.5 L841.1,412.1 L841.6,414.3 L839.3,415.5 L839.6,417.4 L837.2,418.7 L837.4,420.6 L835,421.9 L835.3,423.8 Z" fill="#f8c060" stroke-width="1.200"/>
<path d="M833.5,416 C833.4,413.7 835.5,408 836.5,404 C837.5,400 838.7,396 839.5,392 C840.3,388 841,384 841.5,380 C842,376 842.2,371.3 842.5,368 C842.8,364.7 842.2,361 843,360 C843.8,359 846.3,360 847,362 C847.7,364 847.2,368.3 847,372 C846.8,375.7 846.5,380 846,384 C845.5,388 844.8,392 844,396 C843.2,400 842.2,404.3 841,408 C839.8,411.7 838.2,416.7 837,418 C835.8,419.3 833.6,418.3 833.5,416 Z" fill="#fbdca0" opacity=".85"/>
<path d="M840.500,399 L843.500,385 L844.500,372" fill="none" stroke="#fff" stroke-width="1.600" stroke-linecap="round" opacity=".7"/>
<ellipse class="o" cx="862.4" cy="389" rx="3" ry="5.6" fill="#f8c060" transform="rotate(22 862.4 389)"/>
<ellipse class="o" cx="859" cy="402" rx="5.6" ry="3.3" fill="#f8c060" transform="rotate(-25 859 402)"/>
<ellipse class="o" cx="839" cy="433" rx="6.2" ry="3.6" fill="#f8c060" transform="rotate(-25 839 433)"/>
</g>
<!-- 37_right.svg -->
<g id="glass" class="o">
<path d="M893.800,483 L951.800,483 L945.800,565 Q945.600,567.500 943,567.500 L902.800,567.500 Q900.200,567.500 900,565 Z" fill="#f3f8fc"/>
<path d="M923.800,483.700 L951,483.700 L945.100,565 Q945,566.800 943,566.800 L923.800,566.800 Z" fill="#d5e3f1" stroke="none"/>
<path d="M898.800,496.300 L947.200,496.300 L943,558 Q942.800,560 940.500,560 L905.300,560 Q903.200,560 903,558 Z" fill="url(#gGlassL)" stroke-width="1.100"/>
<path d="M923.800,496.900 L946.600,496.900 L942.400,558 Q942.300,559.400 940.500,559.400 L923.800,559.400 Z" fill="#2aa3de" stroke="none"/>
<path d="M899.500,488 L903,540" stroke="#fff" stroke-width="2" fill="none" opacity=".9"/>
<circle cx="930" cy="510" r="1.8" fill="#eaf6fd" stroke="none"/>
<circle cx="923.8" cy="519.5" r="2.7" fill="#eaf6fd" stroke="none"/>
<circle cx="928.8" cy="528.8" r="3.2" fill="#eaf6fd" stroke="none"/>
<circle cx="922.5" cy="532.5" r="1.3" fill="#eaf6fd" stroke="none"/>
<circle cx="920" cy="527.5" r="1.2" fill="#eaf6fd" stroke="none"/>
<path d="M897.600,484 L903,558 Q903.200,560 905.300,560 L940.500,560 Q942.800,560 943,558 L948.300,484" fill="none" stroke-width="1.200"/>
<path d="M922,476.500 C922.600,484 926.500,488 930.300,492.100 A11.800,11.800 0 1 1 913.700,492.100 C917.500,488 921.400,484 922,476.500 Z" fill="#eef5fb" stroke="#c3d5e6" stroke-width="1"/>
<path d="M925,486.500 C929,489 933,494 933,500.500 A11,11 0 0 1 925,511 C929.500,504 929.500,494 925,486.500 Z" fill="#d3e2ef" stroke="none"/>
<ellipse cx="916.700" cy="496.800" rx="1.300" ry="1.700" fill="#27406b" stroke="none"/><ellipse cx="926.800" cy="496.800" rx="1.300" ry="1.700" fill="#27406b" stroke="none"/>
<path d="M919.800,503.300 Q922.200,500.600 924.600,503.300" fill="none" stroke="#6b5560" stroke-width="1.100"/>
<path d="M914.600,493.300 L917.600,492.600 M928.900,493.300 L925.900,492.600" fill="none" stroke="#8fa3ba" stroke-width=".8"/>
<ellipse cx="913.500" cy="500.300" rx="2" ry="1.400" fill="#f6c3c8" stroke="none"/><ellipse cx="930.200" cy="500.300" rx="2" ry="1.400" fill="#f6c3c8" stroke="none"/>
<path d="M927.600,499 Q928.600,501.500 927.800,503" fill="none" stroke="#8fc3ea" stroke-width="1.200"/>
</g>
<g id="tree" stroke="#2f5a3a" stroke-width="1.500" stroke-linejoin="round" stroke-linecap="round">
<path d="M800,601.5 C799.5,603 797.7,604 796.7,605.5 C795.7,606.9 795.2,609.2 793.9,610 C792.7,610.7 790.8,609.9 789.2,610.1 C787.7,610.2 785.9,611.5 784.6,611 C783.2,610.5 782.4,608.3 781.2,607.2 C780,606 778,605.4 777.3,603.9 C776.7,602.5 777.4,600.2 777.2,598.4 C777.1,596.6 776,594.5 776.4,592.9 C776.9,591.4 778.7,590.4 779.7,588.9 C780.7,587.5 781.2,585.2 782.5,584.4 C783.7,583.7 785.6,584.5 787.2,584.3 C788.7,584.2 790.5,582.9 791.8,583.4 C793.2,583.9 794,586.1 795.2,587.2 C796.4,588.4 798.4,589 799.1,590.5 C799.7,591.9 799,594.2 799.2,596 C799.3,597.8 800.4,599.9 800,601.5 Z" fill="url(#gTree)"/>
<path d="M841.3,597.4 C841.2,598.9 839.3,600.2 838.5,601.8 C837.7,603.3 837.6,605.5 836.4,606.5 C835.2,607.5 833,607.1 831.3,607.6 C829.7,608.1 828,609.7 826.4,609.5 C824.9,609.4 823.6,607.5 822,606.7 C820.5,605.9 818.3,605.8 817.3,604.6 C816.3,603.4 816.7,601.2 816.2,599.5 C815.7,597.9 814.1,596.2 814.3,594.6 C814.4,593.1 816.3,591.8 817.1,590.2 C817.9,588.7 818,586.5 819.2,585.5 C820.4,584.5 822.6,584.9 824.3,584.4 C825.9,583.9 827.6,582.3 829.2,582.5 C830.7,582.6 832,584.5 833.6,585.3 C835.1,586.1 837.3,586.2 838.3,587.4 C839.3,588.6 838.9,590.8 839.4,592.5 C839.9,594.1 841.5,595.8 841.3,597.4 Z" fill="url(#gTree)"/>
<path d="M805.400,642.900 L806.600,613.500 L791.800,601.200 L793.600,598.800 L806.300,608 L804,590 L807,590 L809.300,604.500 L811,590 L814,590 L812.600,608.800 L819.300,604.200 L821,606.600 L813,613.800 L813.700,642.900 Z" fill="#b5855a" stroke="#2a2e55" stroke-width="1.300"/>
<path d="M821.6,582.2 C821.3,583.7 819.1,584.8 818.1,586.2 C817.1,587.7 816.9,589.8 815.5,590.7 C814.1,591.7 811.6,591.4 809.7,591.9 C807.8,592.4 806.1,594 804.3,593.9 C802.5,593.9 800.8,592.3 799,591.7 C797.1,591.1 794.6,591.3 793.3,590.3 C791.9,589.3 791.8,587.1 790.9,585.7 C790,584.2 787.9,583 787.6,581.5 C787.3,580 788.9,578.3 789.3,576.7 C789.7,575 789,573 790,571.7 C790.9,570.4 793.4,569.9 794.9,568.9 C796.5,567.9 797.5,565.9 799.2,565.4 C800.9,564.9 803.1,566 805.1,566 C807.1,566 809.4,565.1 811,565.7 C812.7,566.2 813.6,568.2 815.1,569.3 C816.6,570.4 819,571 819.9,572.3 C820.7,573.6 819.9,575.7 820.2,577.3 C820.5,579 822,580.7 821.6,582.2 Z" fill="url(#gTree)"/>
</g>
<!-- 38_fish.svg -->
<g id="fish">
<g class="o" stroke-width="1.300">
<path d="M792.7,709.9 L784.3,700.4 Q787.8,709.9 784.3,719.5 Z" fill="#7d93ad"/>
<path d="M809.6,701.9 L810.6,695.4 L818,702.5 Z" fill="#8ea4c0"/>
<path d="M796.2,705 L795.9,700.6 L802.6,702.7 Z" fill="#8ea4c0"/>
<path d="M796.2,715 L800.1,720.8 L804,717.1 Z" fill="#7d93ad"/>
<path d="M807.5,717.8 L808.9,722 L813.1,717.9 Z" fill="#7d93ad"/>
<clipPath id="cpF1"><path d="M790.6,709.9 C794.8,703.8 802.6,701.7 813.8,701.7 C823.3,701.7 831.4,704.2 834.2,709.2 C832.8,714.4 823.3,718.1 812.4,718.1 C801.5,718.1 794.8,715.6 790.6,709.9 Z"/></clipPath>
<path d="M790.6,709.9 C794.8,703.8 802.6,701.7 813.8,701.7 C823.3,701.7 831.4,704.2 834.2,709.2 C832.8,714.4 823.3,718.1 812.4,718.1 C801.5,718.1 794.8,715.6 790.6,709.9 Z" fill="#fff"/>
<g clip-path="url(#cpF1)" stroke="none"><rect x="790.6" y="700.7" width="43.6" height="8.8" fill="#a9bcd3"/><rect x="790.6" y="708.9" width="43.6" height="2.9" fill="#cfdbe9"/><path d="M824.7,701.7 Q822.2,709.9 825.4,718.1 L835.2,718.1 L835.2,701.7 Z" fill="#b4c5d9"/></g>
<path d="M790.6,709.9 C794.8,703.8 802.6,701.7 813.8,701.7 C823.3,701.7 831.4,704.2 834.2,709.2 C832.8,714.4 823.3,718.1 812.4,718.1 C801.5,718.1 794.8,715.6 790.6,709.9 Z" fill="none"/>
<path d="M824.7,702.9 Q822.2,709.9 825.4,716.5" fill="none"/>
<path d="M796.2,708.5 l0.4,1.5" stroke="#5f7794" stroke-width="1.1" fill="none"/>
<path d="M799.3,709.7 l0.4,1.5" stroke="#5f7794" stroke-width="1.1" fill="none"/>
<path d="M802.4,709.9 l0.4,1.5" stroke="#5f7794" stroke-width="1.1" fill="none"/>
<path d="M805.5,709.2 l0.4,1.5" stroke="#5f7794" stroke-width="1.1" fill="none"/>
<path d="M808.6,709.8 l0.4,1.5" stroke="#5f7794" stroke-width="1.1" fill="none"/>
<path d="M811.7,710.2 l0.4,1.5" stroke="#5f7794" stroke-width="1.1" fill="none"/>
<path d="M814.8,710.5 l0.4,1.5" stroke="#5f7794" stroke-width="1.1" fill="none"/>
<path d="M817.9,708.9 l0.4,1.5" stroke="#5f7794" stroke-width="1.1" fill="none"/>
<path d="M815.6,713.1 L822.2,711.8 L820.1,715.5 Z" fill="#7d93ad" stroke-width="1.100"/>
<circle cx="828.6" cy="707.2" r="1.1" fill="#1d2340" stroke="none"/>
<path d="M834.2,709.5 L832.1,710.5" fill="none" stroke-width="1.100"/>
</g>
<g class="o" stroke-width="1.300">
<path d="M841.2,739.8 L829.3,726.4 Q834.2,739.8 829.3,753.4 Z" fill="#7d93ad"/>
<path d="M865,728.6 L866.4,719.5 L876.9,729.5 Z" fill="#8ea4c0"/>
<path d="M846.1,733 L845.7,726.9 L855.1,729.8 Z" fill="#8ea4c0"/>
<path d="M846.1,746.9 L851.6,755 L857.1,749.8 Z" fill="#7d93ad"/>
<path d="M862,750.7 L864,756.7 L870,751 Z" fill="#7d93ad"/>
<clipPath id="cpF2"><path d="M838.2,739.8 C844.2,731.2 855.1,728.4 871,728.4 C884.4,728.4 895.8,731.8 899.8,738.8 C897.8,746.1 884.4,751.2 869,751.2 C853.6,751.2 844.2,747.8 838.2,739.8 Z"/></clipPath>
<path d="M838.2,739.8 C844.2,731.2 855.1,728.4 871,728.4 C884.4,728.4 895.8,731.8 899.8,738.8 C897.8,746.1 884.4,751.2 869,751.2 C853.6,751.2 844.2,747.8 838.2,739.8 Z" fill="#fff"/>
<g clip-path="url(#cpF2)" stroke="none"><rect x="838.2" y="727.4" width="61.6" height="11.8" fill="#a9bcd3"/><rect x="838.2" y="738.4" width="61.6" height="4" fill="#cfdbe9"/><path d="M886.4,728.4 Q882.9,739.8 887.4,751.2 L900.8,751.2 L900.8,728.4 Z" fill="#b4c5d9"/></g>
<path d="M838.2,739.8 C844.2,731.2 855.1,728.4 871,728.4 C884.4,728.4 895.8,731.8 899.8,738.8 C897.8,746.1 884.4,751.2 869,751.2 C853.6,751.2 844.2,747.8 838.2,739.8 Z" fill="none"/>
<path d="M886.4,730.1 Q882.9,739.8 887.4,748.9" fill="none"/>
<path d="M846.1,739 l0.6,2.2" stroke="#5f7794" stroke-width="1.3" fill="none"/>
<path d="M850.5,738.9 l0.6,2.2" stroke="#5f7794" stroke-width="1.3" fill="none"/>
<path d="M854.9,739.6 l0.6,2.2" stroke="#5f7794" stroke-width="1.3" fill="none"/>
<path d="M859.3,739.1 l0.6,2.2" stroke="#5f7794" stroke-width="1.3" fill="none"/>
<path d="M863.6,739.3 l0.6,2.2" stroke="#5f7794" stroke-width="1.3" fill="none"/>
<path d="M868,737.8 l0.6,2.2" stroke="#5f7794" stroke-width="1.3" fill="none"/>
<path d="M872.4,738.1 l0.6,2.2" stroke="#5f7794" stroke-width="1.3" fill="none"/>
<path d="M876.7,737.7 l0.6,2.2" stroke="#5f7794" stroke-width="1.3" fill="none"/>
<path d="M873.5,744.4 L882.9,742.5 L879.9,747.7 Z" fill="#7d93ad" stroke-width="1.100"/>
<circle cx="891.9" cy="736" r="1.3" fill="#1d2340" stroke="none"/>
<path d="M899.8,739.3 L896.8,740.6" fill="none" stroke-width="1.100"/>
</g>
</g>
<!-- 39_swim.svg -->
<g id="swim" class="o" stroke-width="1.300">
<!-- splashes -->
<g fill="#eef8fe" stroke="none"><ellipse cx="415.500" cy="701.600" rx="7.500" ry="2"/><ellipse cx="432.800" cy="700.400" rx="7.500" ry="2"/><ellipse cx="448.300" cy="703.100" rx="7.500" ry="2"/><ellipse cx="432.800" cy="705.800" rx="7.500" ry="2"/><ellipse cx="465" cy="707.600" rx="7.500" ry="2"/><ellipse cx="412.800" cy="710.900" rx="7.500" ry="2"/><ellipse cx="445.400" cy="712.400" rx="7.500" ry="2"/><ellipse cx="391.200" cy="718.600" rx="7.500" ry="2"/></g>
<!-- ===== sitting woman ===== -->
<!-- back arm -->
<path d="M419.500,640.500 C415,650 410,660 406.500,668.500 L401,670 Q399,671 400,673 L411,673.500 C415,665 420,655 424.500,645 Z" fill="#fcd9a0"/>
<!-- far leg -->
<path d="M434,666 C440,664 446,666 449.500,670.500 L452,688 Q452.500,691 450,691.500 L446.500,691.500 L443,675 L432,674 Z" fill="#fcd9a0"/>
<!-- torso -->
<path d="M423,640 L433.500,637.500 L438.500,645 L436,652 L437,661 L421,662 L422.500,652 Z" fill="#fcd9a0"/>
<!-- near leg -->
<path d="M430,666.500 C438,661.500 449,662.500 453.500,668 L461.500,685.500 Q463,688.500 460.500,689.500 L456.500,690 L447.500,674 L433,675 Z" fill="#fcd9a0"/>
<!-- bikini bottom -->
<path d="M421,661.500 L436.600,660.600 L441,664 Q437.500,666 435,670.500 L428.500,673.500 Q423,671 422,667.500 Z" fill="#fff"/>
<!-- neck -->
<path d="M424.500,633 L425.500,641 L431.500,640 L430.500,632 Z" fill="#fcd9a0"/>
<!-- bikini top -->
<path d="M422.800,640.500 L427,639.500 L429,642.500 L431,638.200 L433.800,637.300 Q438.500,640.500 438.600,644.500 Q438.500,649 435.500,651.700 L422.200,651.700 Z" fill="#fff"/>
<!-- raised arm -->
<path d="M434,638 C438,638.500 441,640.500 443.500,642 C445,638 446,634.500 446.500,631.500 C445,629 445.500,626 447,625 L448.200,627.500 L448.800,623.800 Q450,623 450.500,624.500 L450.800,627 L452.300,624.800 Q453.500,624.800 453.300,626.500 L452.800,629 L454.200,628 Q455.300,628.500 454.500,630 L451.500,634 C451,638 449,643.500 446.500,647 Q444.500,648.500 442.500,647.500 C439.500,645.500 437,644.500 435,644 Z" fill="#fcd9a0"/>
<!-- head -->
<path d="M426.500,616 C429,615 431.500,616.500 431.800,619 L434.500,622 L432.800,623 L433,626 L431.500,626.500 L431.800,629 Q431,631.500 428,631 L424,630.500 L422,622 Z" fill="#fcd9a0"/>
<path d="M431.800,627 L433.300,626.600" stroke="#c8504a" stroke-width="1.200" fill="none"/>
<path d="M429.500,612.800 C423,611.500 414.500,615 413,623 C412,629 413.500,634.500 416,638.200 L425,638.200 C423.500,633 423,627.500 424.500,623.500 C425.500,620.500 427.500,618.500 430.500,617 Z" fill="#b98a5c"/>
<!-- ===== swimmer ===== -->
<path d="M463.500,742.500 Q461.500,742 462,739 L463.500,727 Q464.500,720.500 471.500,719.600 L504.500,719.600 Q512,720.500 513.500,727.500 L515,739 Q515.500,742.500 513,743 L510.500,743 Q508.500,743 508.500,741 L508,735 L502.500,733.500 Q488,742 475.500,733.500 L470,735.500 L469.500,741 Q469.500,743 467.500,743 Z" fill="#fcd9a0"/>
<path d="M481,713 L481,720.500 L493,720.500 L493,713 Z" fill="#fcd9a0" stroke="none"/>
<path d="M482.500,699.500 C479.500,701.500 479,704.500 478.800,706.500 L477.800,709 L479.500,709.500 L479.300,711.500 L480.800,712 Q481.500,716 485.500,716 L491,716 L495,709 L492,699 Z" fill="#fcd9a0"/>
<path d="M479.500,711.600 L481,711.300" stroke="#c8504a" stroke-width="1.100" fill="none"/>
<path d="M481,700.500 C482,694.500 488,692 493,693.500 C499,695.500 502,701 500.800,706.500 C500,711 497.500,714.500 494,715 C492,714 492.500,711.500 493,709.500 C493.500,707 492,705.500 490.500,706.500 C490.500,703 486,700 481,700.500 Z" fill="#b07a48"/>
</g>
<!-- 40_mid.svg -->
<g id="ext" class="o">
<path d="M556,555.700 C566,555 573.500,560 573,567 C572.500,573 567,577 565.500,583 C564.200,588 564.300,592 564.300,596" fill="none" stroke="#2a2e55" stroke-width="4.400"/>
<path d="M556,555.700 C566,555 573.500,560 573,567 C572.500,573 567,577 565.500,583 C564.200,588 564.300,592 564.300,596" fill="none" stroke="#9fb4d4" stroke-width="2"/>
<path d="M562.800,595.600 L566.200,595.600 L567.800,609.900 L560.200,609.900 Z" fill="#9fb4c9"/>
<path d="M529.400,545.600 L540.500,551.500" fill="none" stroke-width="4.600"/><path d="M529.400,545.600 L540.500,551.500" fill="none" stroke="#f5b041" stroke-width="2.200"/>
<path d="M530.500,556.700 L552,554.300 L558.500,554.800 L558.500,556.300 L552,558.600 L530.800,561 Q528.800,561 528.800,559 Q528.800,557 530.500,556.700 Z" fill="#f5b041"/>
<path d="M541.100,568 L541.100,560.500 L549.600,560.500 L549.600,568 Z" fill="#e8665f"/>
<path d="M533.700,613.100 L533.700,579 Q533.700,568.500 541.100,565.500 L549.600,565.500 Q557.600,568.500 557.600,579 L557.600,613.100 Z" fill="#e8665f"/>
<rect x="547" y="575.900" width="6.300" height="31.300" rx="3.100" fill="#fff" stroke="none"/>
<circle cx="545.700" cy="551.800" r="5.700" fill="#fff"/>
<path d="M545.700,547.500 L545.700,553" fill="none" stroke-width="1.200"/>
<circle cx="525" cy="578.300" r="4.900" fill="#fff"/><circle cx="518.800" cy="573.200" r="6.900" fill="#fff"/><circle cx="524.600" cy="578" r="4.200" fill="#fff" stroke="none"/>
<circle cx="575.400" cy="589.400" r="4.600" fill="#fff"/>
<path d="M527.800,613.400 L574.600,613.400" fill="none"/>
</g>
<clipPath id="cpdM"><path d="M663.2,579 Q671.7,592.3 681.6,604.7 A22.7,22.7 0 1 1 644.8,604.7 Q654.7,592.3 663.2,579 Z"/></clipPath>
<path d="M663.2,579 Q671.7,592.3 681.6,604.7 A22.7,22.7 0 1 1 644.8,604.7 Q654.7,592.3 663.2,579 Z" fill="url(#gDropM2)"/>
<g clip-path="url(#cpdM)"><ellipse cx="655" cy="622" rx="14" ry="21" fill="url(#gHL)" transform="rotate(12 655 622)"/><path d="M663,579 C668,595 669,615 666.5,641 L690,641 L690,579 Z" fill="#5a70b4" opacity=".3"/></g>
<circle cx="664.4" cy="594" r="2" fill="#1d2040" opacity="1"/>
<circle cx="671" cy="606" r="2" fill="#1d2040" opacity="0.35"/>
<circle cx="654.8" cy="612.8" r="2" fill="#1d2040" opacity="1"/>
<circle cx="660.5" cy="618" r="2" fill="#1d2040" opacity="1"/>
<circle cx="674" cy="616.8" r="2" fill="#1d2040" opacity="0.3"/>
<circle cx="659.5" cy="629.8" r="2" fill="#1d2040" opacity="0.3"/>
<circle cx="670.8" cy="628.8" r="2" fill="#1d2040" opacity="0.3"/>
<path class="o" d="M663.2,579 Q671.7,592.3 681.6,604.7 A22.7,22.7 0 1 1 644.8,604.7 Q654.7,592.3 663.2,579 Z" fill="none" stroke-width="1.600"/>
<g id="bags" class="o">
<path d="M598,312.500 C595,308.500 597,305.500 600,306.800 C602,304.500 605,305.800 606.500,306.500 C609,305 612,306.500 610.500,309.500 L608.500,313 C614.500,316.500 617.500,327 617.500,337 Q617.500,344.600 611,344.600 L596,344.600 Q589.700,344.600 589.700,337 C589.700,327 592.500,316.500 598,312.500 Z" fill="#7f95b0"/>
<path d="M598.500,313 Q603.500,314.500 608.300,313.200" fill="none" stroke-width="1"/>
<path d="M605,314 C611,319 614,328 614,337 Q614,342 610,343 L604,343 C609,336 609,323 605,314 Z" fill="#6b819c" stroke="none"/>
<path d="M581.500,322.500 C579,319.500 580.500,317.300 583,318.300 C584.500,316.500 587,317.300 588,318 C590,317 592,318.500 590.800,320.800 L589.300,323.300 C594.500,326.500 598,332.500 598,338.500 Q598,344.600 592.500,344.600 L579,344.600 Q573.300,344.600 573.300,338.500 C573.300,332.500 576.500,326 581.500,322.500 Z" fill="#e3ebf3"/>
<path d="M581.800,323.300 Q585.500,324.600 589.200,323.700" fill="none" stroke-width="1"/>
<path d="M581,324.500 C577,328.500 575.500,334 576,339.500 Q576.500,343 579.500,343 L582,343 C579.500,337.500 579.500,329.500 581,324.500 Z" fill="#b3c3d6" stroke="none"/>
</g>
<clipPath id="cpdB"><path d="M639.6,304.5 Q645.1,313.7 651.6,322.3 A14.4,14.4 0 1 1 627.6,322.3 Q634.1,313.7 639.6,304.5 Z"/></clipPath>
<path d="M639.6,304.5 Q645.1,313.7 651.6,322.3 A14.4,14.4 0 1 1 627.6,322.3 Q634.1,313.7 639.6,304.5 Z" fill="url(#gDropM2)"/>
<g clip-path="url(#cpdB)"><ellipse cx="634.4" cy="332.6" rx="8.9" ry="13.4" fill="url(#gHL)" transform="rotate(12 634.4 332.6)"/><path d="M639.5,304.5 C642.7,315 643.3,328.1 641.7,345.1 L656.7,345.1 L656.7,304.5 Z" fill="#5a70b4" opacity=".3"/></g>
<circle cx="640.4" cy="314.3" r="1.3" fill="#1d2040" opacity="1"/>
<circle cx="644.6" cy="322.2" r="1.3" fill="#1d2040" opacity="0.35"/>
<circle cx="634.3" cy="326.6" r="1.3" fill="#1d2040" opacity="1"/>
<circle cx="637.9" cy="330" r="1.3" fill="#1d2040" opacity="1"/>
<circle cx="646.5" cy="329.2" r="1.3" fill="#1d2040" opacity="0.3"/>
<circle cx="637.2" cy="337.7" r="1.3" fill="#1d2040" opacity="0.3"/>
<circle cx="644.4" cy="337.1" r="1.3" fill="#1d2040" opacity="0.3"/>
<path class="o" d="M639.6,304.5 Q645.1,313.7 651.6,322.3 A14.4,14.4 0 1 1 627.6,322.3 Q634.1,313.7 639.6,304.5 Z" fill="none" stroke-width="1.600"/>
<!-- 80_arrows_top.svg -->
<polygon class="ar" points="915.75,475.7 917,291 910.6,291 922.5,276.8 934.4,291 928,291 929.25,475.7"/>
<!-- 85_logo.svg -->
<g id="logo" fill="#9dd3f0">
<path d="M919,749 A27,24.500 0 0 1 973,749 Z"/>
<text x="946.700" y="766.200" font-family="'Liberation Sans',sans-serif" font-weight="700" font-size="18.600" text-anchor="middle" textLength="51.500" lengthAdjust="spacingAndGlyphs" stroke="#9dd3f0" stroke-width="1.800" stroke-linejoin="round">TOHO</text>
<text x="945" y="776" font-family="'Liberation Sans',sans-serif" font-weight="700" font-size="9.300" text-anchor="middle" textLength="33" lengthAdjust="spacingAndGlyphs" stroke="#9dd3f0" stroke-width=".4">Co.,Ltd.</text>
</g>
<!-- 90_text.svg -->
<g class="jp">
<text x="107" y="164.6">産業</text>
<text x="317.5" y="162.8">産業廃棄物</text>
<text x="545.2" y="189" style="font-size:14.15px">コンシューマ製品</text>
<text x="545" y="206.2">消費者向け</text>
<text x="816.8" y="189.3">住居・家庭</text>
<text x="237" y="360">産業廃棄物</text>
<text x="614.2" y="364.4" style="font-size:14.15px">家庭から出る消費済ゴミ</text>
<text x="530.6" y="443">処理済み廃棄物</text>
<text x="301.4" y="531.2">廃棄物管理施設</text>
<text x="303.7" y="546" class="w" style="font-size:11.6px">埋立地と廃水処理場</text>
<text x="149" y="579.6">産業排水の排出</text>
<text x="339.5" y="631.4">処理済み廃棄物</text>
<text x="545.5" y="633.6">消火泡</text>
<text x="663.5" y="536.8">農地</text>
<text x="923.3" y="600.8">飲料水</text>
<text x="488.5" y="759.4" class="w">水遊び</text>
<text x="670.8" y="734.8" class="w" style="font-size:14.1px">農作物の生育に必要な水</text>
</g>
<g class="sl" stroke-linejoin="round">
<text x="503" y="82" font-size="34" textLength="215.500" lengthAdjust="spacingAndGlyphs" stroke="#2a2e4f" stroke-width="1.900">PFAS CYCLE</text>
<text x="406.700" y="171.300" font-size="21.500" textLength="42.500" lengthAdjust="spacingAndGlyphs" stroke="#2a2e4f" stroke-width="1.300">AIR</text>
<text x="831.900" y="468.300" font-size="11.800" textLength="37.600" lengthAdjust="spacingAndGlyphs" stroke="#2a2e4f" stroke-width=".9">FOOD</text>
<text x="803.200" y="743.300" font-size="12.800" textLength="37.500" lengthAdjust="spacingAndGlyphs" fill="#fff" stroke="#fff" stroke-width=".9">FOOD</text>
<text x="342.200" y="754.300" font-size="21.800" textLength="85.500" lengthAdjust="spacingAndGlyphs" fill="#fff" stroke="#fff" stroke-width="1.300">WATER</text>
</g>
</svg>
</body></html>
